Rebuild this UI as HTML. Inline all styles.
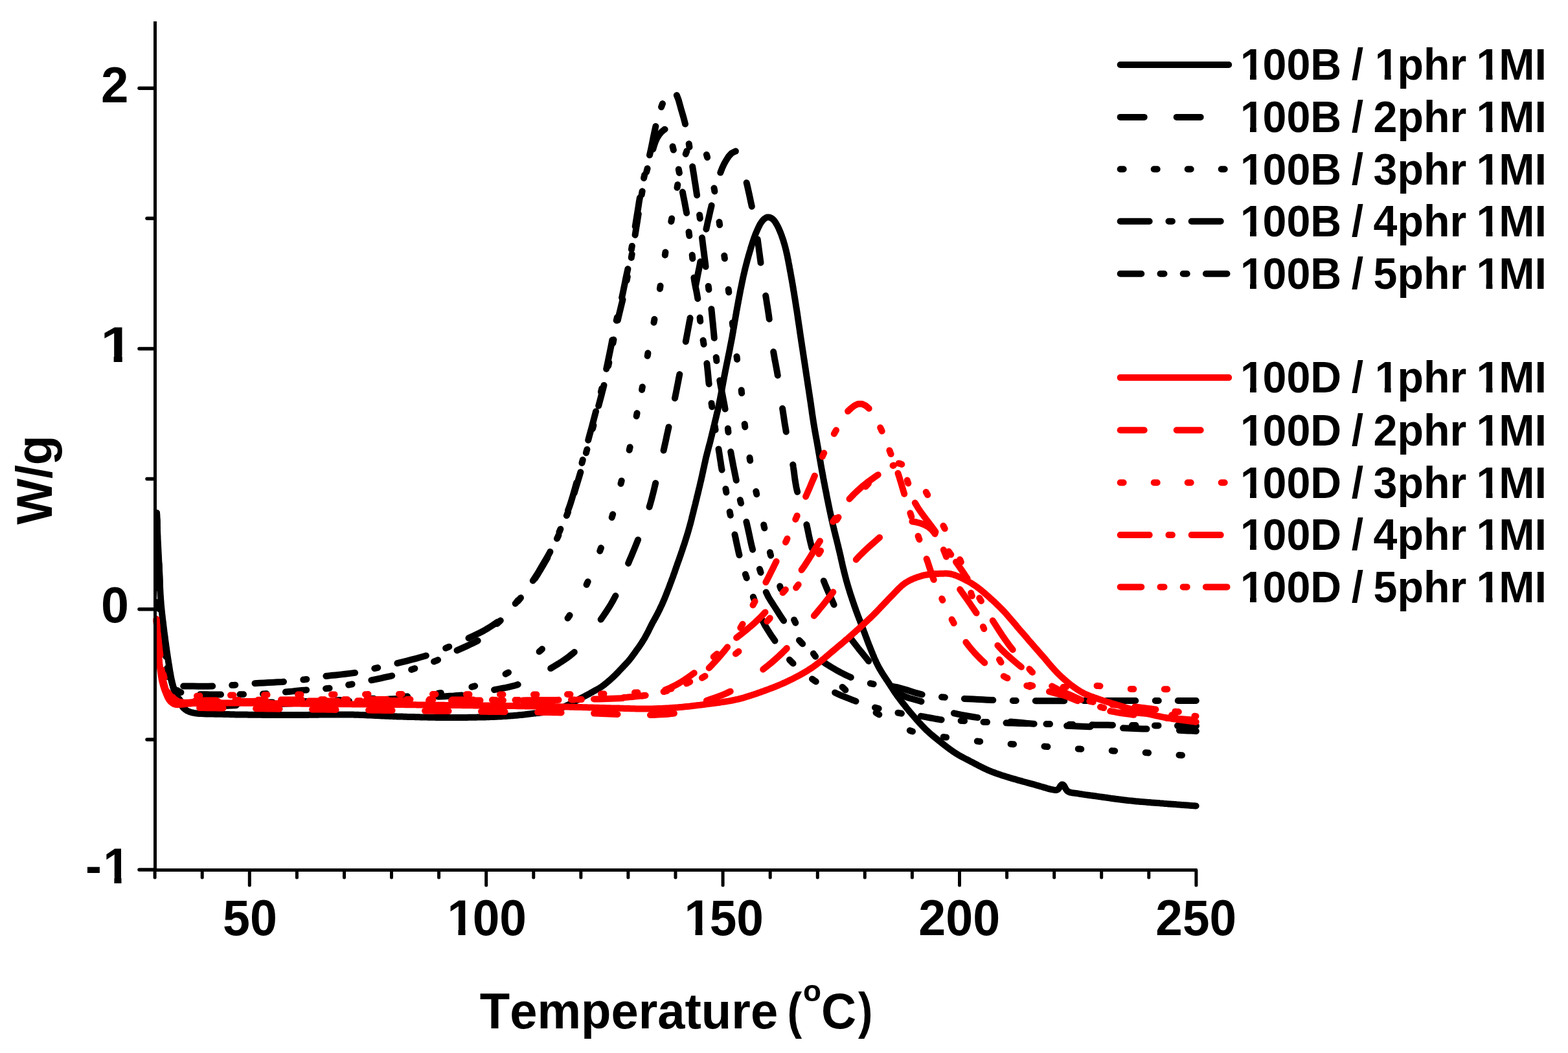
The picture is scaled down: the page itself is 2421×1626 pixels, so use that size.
<!DOCTYPE html>
<html><head><meta charset="utf-8"><style>html,body{margin:0;padding:0;background:#fff;width:2421px;height:1626px;overflow:hidden}svg{display:block}</style></head>
<body><svg xmlns="http://www.w3.org/2000/svg" width="2421" height="1626" viewBox="0 0 2421 1626"><path d="M242.0 792.0L242.1 793.3L242.2 795.1L242.2 797.0L242.3 799.0L242.4 801.0L242.4 803.0L242.5 805.0L242.6 807.0L242.7 809.0L242.7 811.0L242.8 813.0L242.9 815.0L243.0 817.0L243.0 819.0L243.1 821.0L243.2 823.0L243.3 825.0L243.4 827.0L243.5 829.0L243.5 831.0L243.6 833.0L243.7 835.0L243.8 837.0L243.9 839.0L244.0 841.0L244.1 843.0L244.2 845.0L244.3 847.0L244.4 848.9L244.5 850.9L244.6 852.9L244.7 854.9L244.8 856.9L244.9 858.9L245.0 860.9L245.1 862.9L245.2 864.9L245.3 866.9L245.4 868.9L245.5 870.9L245.6 872.9L245.7 874.9L245.8 876.9L245.9 878.9L246.0 880.9L246.1 882.9L246.2 884.9L246.2 886.9L246.3 888.9L246.4 890.9L246.5 892.9L246.6 894.9L246.7 896.9L246.7 898.9L246.8 900.9L246.9 902.9L247.0 904.9L247.1 906.9L247.2 908.9L247.3 910.9L247.4 912.9L247.5 914.9L247.6 916.9L247.7 918.9L247.9 920.9L248.0 922.9L248.1 924.9L248.3 926.9L248.4 928.8L248.6 930.8L248.7 932.8L248.9 934.8L249.1 936.8L249.3 938.8L249.5 940.8L249.7 942.8L249.9 944.8L250.1 946.8L250.3 948.8L250.5 950.7L250.8 952.7L251.0 954.7L251.2 956.7L251.5 958.7L251.7 960.7L252.0 962.7L252.2 964.6L252.4 966.6L252.7 968.6L252.9 970.6L253.2 972.6L253.4 974.6L253.7 976.5L253.9 978.5L254.2 980.5L254.5 982.5L254.7 984.5L255.0 986.5L255.2 988.4L255.5 990.4L255.8 992.4L256.1 994.4L256.3 996.4L256.6 998.4L256.9 1000.3L257.2 1002.3L257.4 1004.3L257.7 1006.3L258.0 1008.3L258.3 1010.2L258.6 1012.2L258.9 1014.2L259.2 1016.2L259.5 1018.1L259.8 1020.1L260.1 1022.1L260.4 1024.1L260.7 1026.0L261.1 1028.0L261.4 1030.0L261.7 1032.0L262.0 1033.9L262.3 1035.9L262.7 1037.9L263.0 1039.9L263.4 1041.8L263.7 1043.8L264.1 1045.8L264.5 1047.7L264.9 1049.7L265.4 1051.6L265.8 1053.6L266.3 1055.5L266.8 1057.4L267.3 1059.4L267.9 1061.3L268.5 1063.2L269.1 1065.1L269.7 1067.0L270.3 1068.9L271.0 1070.8L271.8 1072.7L272.5 1074.5L273.3 1076.3L274.1 1078.2L275.0 1080.0L275.9 1081.7L276.8 1083.5L277.8 1085.3L278.8 1087.0L279.9 1088.7L281.0 1090.3L282.2 1091.9L283.5 1093.4L285.0 1094.7L286.6 1096.0L288.2 1097.1L290.0 1098.0L291.8 1098.8L293.7 1099.5L295.6 1100.1L297.5 1100.5L299.5 1100.9L301.4 1101.2L303.4 1101.5L305.4 1101.7L307.4 1101.9L309.4 1102.0L311.4 1102.1L313.4 1102.2L315.4 1102.3L317.4 1102.4L319.4 1102.4L321.4 1102.5L323.4 1102.5L325.4 1102.6L327.4 1102.6L329.4 1102.6L331.4 1102.7L333.4 1102.7L335.4 1102.7L337.4 1102.7L339.4 1102.8L341.4 1102.8L343.4 1102.8L345.4 1102.9L347.4 1102.9L349.4 1103.0L351.4 1103.0L353.4 1103.1L355.4 1103.2L357.4 1103.2L359.4 1103.3L361.4 1103.3L363.4 1103.4L365.4 1103.4L367.4 1103.4L369.4 1103.5L371.4 1103.5L373.4 1103.5L375.4 1103.6L377.4 1103.6L379.4 1103.6L381.4 1103.6L383.4 1103.7L385.4 1103.7L387.4 1103.7L389.4 1103.7L391.4 1103.8L393.4 1103.8L395.4 1103.8L397.4 1103.8L399.4 1103.8L401.4 1103.8L403.4 1103.8L405.4 1103.9L407.4 1103.9L409.4 1103.9L411.4 1103.9L413.4 1103.9L415.4 1103.9L417.4 1103.9L419.4 1103.9L421.4 1103.9L423.4 1103.9L425.4 1103.9L427.4 1103.9L429.4 1104.0L431.4 1104.0L433.4 1104.0L435.4 1104.0L437.4 1104.0L439.4 1104.0L441.4 1104.0L443.4 1104.0L445.4 1104.0L447.4 1104.0L449.4 1104.0L451.4 1104.0L453.4 1104.0L455.4 1104.0L457.4 1104.0L459.4 1104.0L461.4 1104.0L463.4 1104.0L465.4 1104.0L467.4 1103.9L469.4 1103.9L471.4 1103.9L473.4 1103.9L475.4 1103.9L477.4 1103.8L479.4 1103.8L481.4 1103.8L483.4 1103.8L485.4 1103.7L487.4 1103.7L489.4 1103.7L491.4 1103.7L493.4 1103.6L495.4 1103.6L497.4 1103.6L499.4 1103.6L501.4 1103.5L503.4 1103.5L505.4 1103.5L507.4 1103.5L509.4 1103.4L511.4 1103.4L513.4 1103.4L515.4 1103.4L517.4 1103.4L519.4 1103.4L521.4 1103.4L523.4 1103.4L525.4 1103.4L527.4 1103.4L529.4 1103.4L531.4 1103.4L533.4 1103.4L535.4 1103.4L537.4 1103.5L539.4 1103.5L541.4 1103.5L543.4 1103.6L545.4 1103.6L547.4 1103.7L549.4 1103.7L551.4 1103.8L553.4 1103.8L555.4 1103.9L557.4 1104.0L559.4 1104.0L561.4 1104.1L563.4 1104.2L565.4 1104.3L567.4 1104.4L569.4 1104.5L571.4 1104.5L573.4 1104.6L575.4 1104.7L577.3 1104.8L579.3 1104.9L581.3 1105.0L583.3 1105.1L585.3 1105.2L587.3 1105.3L589.3 1105.4L591.3 1105.5L593.3 1105.6L595.3 1105.7L597.3 1105.8L599.3 1105.8L601.3 1105.9L603.3 1106.0L605.3 1106.1L607.3 1106.2L609.3 1106.2L611.3 1106.3L613.3 1106.4L615.3 1106.4L617.3 1106.5L619.3 1106.6L621.3 1106.6L623.3 1106.7L625.3 1106.7L627.3 1106.8L629.3 1106.9L631.3 1106.9L633.3 1107.0L635.3 1107.0L637.3 1107.1L639.3 1107.1L641.3 1107.2L643.3 1107.2L645.3 1107.3L647.3 1107.3L649.3 1107.4L651.3 1107.4L653.3 1107.5L655.3 1107.5L657.3 1107.6L659.3 1107.6L661.3 1107.7L663.3 1107.7L665.3 1107.7L667.3 1107.8L669.3 1107.8L671.3 1107.8L673.3 1107.9L675.3 1107.9L677.3 1107.9L679.3 1107.9L681.3 1107.9L683.3 1108.0L685.3 1108.0L687.3 1108.0L689.3 1108.0L691.3 1108.0L693.3 1108.0L695.3 1108.0L697.3 1108.0L699.3 1108.0L701.3 1108.0L703.3 1108.0L705.3 1108.0L707.3 1108.0L709.3 1108.0L711.3 1108.0L713.3 1107.9L715.3 1107.9L717.3 1107.9L719.3 1107.9L721.3 1107.9L723.3 1107.8L725.3 1107.8L727.3 1107.8L729.3 1107.8L731.3 1107.7L733.3 1107.7L735.3 1107.7L737.3 1107.6L739.3 1107.6L741.3 1107.6L743.3 1107.5L745.3 1107.5L747.3 1107.4L749.3 1107.4L751.3 1107.3L753.3 1107.2L755.3 1107.2L757.3 1107.1L759.3 1107.0L761.3 1106.9L763.3 1106.9L765.3 1106.8L767.3 1106.7L769.3 1106.6L771.3 1106.5L773.3 1106.4L775.3 1106.3L777.3 1106.1L779.3 1106.0L781.3 1105.9L783.2 1105.8L785.2 1105.6L787.2 1105.5L789.2 1105.3L791.2 1105.2L793.2 1105.0L795.2 1104.8L797.2 1104.7L799.2 1104.5L801.2 1104.3L803.2 1104.1L805.2 1103.9L807.2 1103.7L809.1 1103.5L811.1 1103.3L813.1 1103.0L815.1 1102.8L817.1 1102.6L819.1 1102.3L821.1 1102.1L823.0 1101.8L825.0 1101.6L827.0 1101.4L829.0 1101.1L831.0 1100.9L833.0 1100.7L835.0 1100.4L837.0 1100.2L838.9 1099.9L840.9 1099.7L842.9 1099.4L844.9 1099.0L846.8 1098.7L848.8 1098.3L850.8 1097.9L852.7 1097.5L854.7 1097.0L856.6 1096.5L858.5 1095.9L860.4 1095.3L862.3 1094.7L864.2 1094.0L866.1 1093.3L867.9 1092.5L869.8 1091.8L871.6 1091.0L873.4 1090.2L875.2 1089.3L877.0 1088.5L878.8 1087.6L880.6 1086.7L882.4 1085.8L884.2 1084.9L886.0 1084.0L887.8 1083.1L889.5 1082.1L891.3 1081.2L893.1 1080.3L894.8 1079.3L896.6 1078.4L898.3 1077.4L900.1 1076.5L901.9 1075.5L903.6 1074.6L905.4 1073.6L907.2 1072.7L908.9 1071.8L910.7 1070.8L912.4 1069.8L914.2 1068.8L915.9 1067.9L917.7 1066.9L919.4 1065.9L921.2 1065.0L922.9 1064.0L924.7 1063.0L926.4 1062.0L928.1 1060.9L929.7 1059.8L931.3 1058.6L932.9 1057.4L934.4 1056.1L936.0 1054.8L937.5 1053.6L939.0 1052.3L940.6 1051.0L942.1 1049.7L943.6 1048.3L945.1 1047.0L946.5 1045.6L948.0 1044.3L949.4 1042.9L950.8 1041.5L952.2 1040.0L953.6 1038.6L955.0 1037.2L956.4 1035.7L957.8 1034.2L959.1 1032.8L960.5 1031.3L961.9 1029.9L963.2 1028.4L964.6 1027.0L966.0 1025.5L967.4 1024.1L968.7 1022.6L970.1 1021.1L971.4 1019.6L972.6 1018.0L973.8 1016.5L975.0 1014.9L976.2 1013.3L977.4 1011.6L978.6 1010.0L979.8 1008.4L980.9 1006.8L982.1 1005.1L983.3 1003.5L984.4 1001.9L985.6 1000.3L986.8 998.6L987.9 997.0L989.0 995.4L990.1 993.7L991.2 992.0L992.3 990.3L993.3 988.6L994.4 986.9L995.4 985.2L996.4 983.4L997.3 981.7L998.3 979.9L999.2 978.2L1000.2 976.4L1001.1 974.6L1002.0 972.8L1002.8 971.0L1003.7 969.2L1004.6 967.4L1005.5 965.6L1006.4 963.9L1007.3 962.1L1008.3 960.3L1009.3 958.6L1010.2 956.9L1011.2 955.1L1012.2 953.4L1013.1 951.6L1014.1 949.8L1015.0 948.1L1015.9 946.3L1016.8 944.5L1017.7 942.7L1018.6 940.9L1019.4 939.1L1020.3 937.3L1021.1 935.5L1022.0 933.7L1022.8 931.8L1023.6 930.0L1024.4 928.2L1025.2 926.3L1026.0 924.5L1026.7 922.6L1027.5 920.8L1028.2 918.9L1028.9 917.1L1029.7 915.2L1030.4 913.3L1031.1 911.5L1031.9 909.6L1032.6 907.8L1033.3 905.9L1034.0 904.0L1034.7 902.1L1035.4 900.3L1036.1 898.4L1036.8 896.5L1037.5 894.6L1038.2 892.8L1038.9 890.9L1039.6 889.0L1040.2 887.1L1040.9 885.2L1041.6 883.4L1042.2 881.5L1042.9 879.6L1043.5 877.7L1044.2 875.8L1044.8 873.9L1045.5 872.0L1046.2 870.1L1046.8 868.2L1047.5 866.4L1048.2 864.5L1048.9 862.6L1049.5 860.7L1050.2 858.8L1050.8 856.9L1051.5 855.0L1052.1 853.1L1052.8 851.3L1053.4 849.4L1054.0 847.5L1054.7 845.6L1055.3 843.7L1055.9 841.8L1056.6 839.9L1057.2 838.0L1057.8 836.1L1058.4 834.2L1059.0 832.3L1059.6 830.3L1060.2 828.4L1060.8 826.5L1061.4 824.6L1062.0 822.7L1062.5 820.8L1063.1 818.9L1063.6 816.9L1064.2 815.0L1064.7 813.1L1065.2 811.2L1065.8 809.2L1066.3 807.3L1066.8 805.4L1067.3 803.4L1067.8 801.5L1068.2 799.5L1068.7 797.6L1069.2 795.7L1069.7 793.7L1070.2 791.8L1070.7 789.8L1071.1 787.9L1071.6 786.0L1072.1 784.0L1072.6 782.1L1073.1 780.1L1073.6 778.2L1074.0 776.2L1074.5 774.3L1075.0 772.4L1075.5 770.4L1075.9 768.5L1076.4 766.5L1076.9 764.6L1077.4 762.7L1077.8 760.7L1078.3 758.8L1078.8 756.8L1079.2 754.9L1079.7 752.9L1080.2 751.0L1080.6 749.0L1081.1 747.1L1081.5 745.1L1082.0 743.2L1082.5 741.2L1082.9 739.3L1083.3 737.3L1083.8 735.4L1084.2 733.4L1084.6 731.5L1085.1 729.5L1085.5 727.6L1085.9 725.6L1086.3 723.7L1086.8 721.7L1087.2 719.8L1087.6 717.8L1088.0 715.9L1088.5 713.9L1088.9 711.9L1089.3 710.0L1089.8 708.0L1090.2 706.1L1090.7 704.2L1091.2 702.2L1091.7 700.3L1092.2 698.3L1092.7 696.4L1093.2 694.5L1093.7 692.5L1094.2 690.6L1094.7 688.7L1095.3 686.7L1095.8 684.8L1096.3 682.9L1096.8 680.9L1097.2 679.0L1097.7 677.1L1098.2 675.1L1098.7 673.2L1099.2 671.2L1099.6 669.3L1100.1 667.3L1100.6 665.4L1101.0 663.4L1101.5 661.5L1101.9 659.6L1102.4 657.6L1102.9 655.7L1103.3 653.7L1103.8 651.8L1104.3 649.8L1104.7 647.9L1105.2 645.9L1105.7 644.0L1106.1 642.0L1106.6 640.1L1107.0 638.2L1107.5 636.2L1108.0 634.3L1108.4 632.3L1108.8 630.4L1109.3 628.4L1109.7 626.4L1110.1 624.5L1110.5 622.5L1110.9 620.6L1111.3 618.6L1111.7 616.6L1112.1 614.7L1112.4 612.7L1112.8 610.8L1113.2 608.8L1113.6 606.8L1113.9 604.9L1114.3 602.9L1114.7 600.9L1115.0 599.0L1115.4 597.0L1115.7 595.0L1116.1 593.1L1116.5 591.1L1116.8 589.1L1117.2 587.2L1117.6 585.2L1117.9 583.2L1118.3 581.3L1118.7 579.3L1119.1 577.3L1119.4 575.4L1119.8 573.4L1120.2 571.4L1120.6 569.5L1121.0 567.5L1121.4 565.6L1121.8 563.6L1122.2 561.6L1122.6 559.7L1123.0 557.7L1123.4 555.8L1123.8 553.8L1124.2 551.8L1124.6 549.9L1125.0 547.9L1125.4 546.0L1125.8 544.0L1126.2 542.0L1126.6 540.1L1127.0 538.1L1127.3 536.2L1127.7 534.2L1128.1 532.2L1128.5 530.3L1128.9 528.3L1129.3 526.3L1129.6 524.4L1130.0 522.4L1130.4 520.4L1130.7 518.5L1131.1 516.5L1131.4 514.5L1131.8 512.6L1132.1 510.6L1132.4 508.6L1132.8 506.7L1133.1 504.7L1133.4 502.7L1133.8 500.7L1134.1 498.8L1134.4 496.8L1134.8 494.8L1135.1 492.9L1135.4 490.9L1135.8 488.9L1136.1 486.9L1136.5 485.0L1136.8 483.0L1137.1 481.0L1137.5 479.1L1137.9 477.1L1138.2 475.1L1138.6 473.2L1138.9 471.2L1139.3 469.2L1139.7 467.3L1140.0 465.3L1140.4 463.3L1140.8 461.4L1141.1 459.4L1141.5 457.4L1141.9 455.5L1142.3 453.5L1142.6 451.5L1143.0 449.6L1143.4 447.6L1143.8 445.6L1144.2 443.7L1144.6 441.7L1145.0 439.8L1145.4 437.8L1145.8 435.8L1146.2 433.9L1146.6 431.9L1147.0 430.0L1147.4 428.0L1147.9 426.1L1148.3 424.1L1148.8 422.2L1149.2 420.2L1149.7 418.3L1150.2 416.3L1150.6 414.4L1151.1 412.4L1151.6 410.5L1152.1 408.6L1152.6 406.6L1153.1 404.7L1153.6 402.8L1154.1 400.8L1154.7 398.9L1155.2 397.0L1155.7 395.1L1156.3 393.1L1156.9 391.2L1157.4 389.3L1158.0 387.4L1158.6 385.5L1159.1 383.5L1159.7 381.6L1160.3 379.7L1160.9 377.8L1161.5 375.9L1162.1 374.0L1162.8 372.1L1163.4 370.2L1164.0 368.3L1164.7 366.4L1165.4 364.6L1166.1 362.7L1166.8 360.8L1167.6 359.0L1168.4 357.1L1169.2 355.3L1170.0 353.5L1170.8 351.7L1171.7 349.8L1172.6 348.1L1173.5 346.3L1174.6 344.6L1175.7 342.9L1176.9 341.3L1178.2 339.8L1179.6 338.4L1181.1 337.2L1182.8 336.2L1184.6 335.5L1186.4 335.4L1188.3 335.7L1190.1 336.4L1191.8 337.4L1193.4 338.6L1194.8 340.0L1196.0 341.6L1197.2 343.2L1198.2 344.9L1199.2 346.6L1200.2 348.4L1201.1 350.1L1202.0 351.9L1202.8 353.8L1203.6 355.6L1204.4 357.4L1205.1 359.3L1205.9 361.2L1206.6 363.0L1207.2 364.9L1207.9 366.8L1208.5 368.7L1209.2 370.6L1209.8 372.5L1210.3 374.4L1210.9 376.3L1211.5 378.3L1212.0 380.2L1212.5 382.1L1213.0 384.1L1213.5 386.0L1214.0 387.9L1214.4 389.9L1214.8 391.8L1215.3 393.8L1215.7 395.7L1216.1 397.7L1216.5 399.7L1216.9 401.6L1217.3 403.6L1217.6 405.6L1218.0 407.5L1218.4 409.5L1218.8 411.5L1219.1 413.4L1219.5 415.4L1219.8 417.4L1220.2 419.3L1220.6 421.3L1220.9 423.3L1221.3 425.2L1221.6 427.2L1222.0 429.2L1222.3 431.1L1222.7 433.1L1223.0 435.1L1223.4 437.0L1223.7 439.0L1224.0 441.0L1224.4 443.0L1224.7 444.9L1225.0 446.9L1225.3 448.9L1225.7 450.8L1226.0 452.8L1226.3 454.8L1226.6 456.8L1226.9 458.7L1227.3 460.7L1227.6 462.7L1227.9 464.7L1228.2 466.6L1228.5 468.6L1228.8 470.6L1229.1 472.6L1229.4 474.5L1229.7 476.5L1230.1 478.5L1230.4 480.5L1230.7 482.5L1231.0 484.4L1231.3 486.4L1231.6 488.4L1231.8 490.4L1232.1 492.3L1232.4 494.3L1232.7 496.3L1233.0 498.3L1233.3 500.3L1233.6 502.2L1233.9 504.2L1234.2 506.2L1234.5 508.2L1234.8 510.2L1235.0 512.1L1235.3 514.1L1235.6 516.1L1235.9 518.1L1236.2 520.0L1236.5 522.0L1236.8 524.0L1237.1 526.0L1237.4 528.0L1237.7 529.9L1238.0 531.9L1238.3 533.9L1238.6 535.9L1238.9 537.8L1239.2 539.8L1239.5 541.8L1239.8 543.8L1240.1 545.8L1240.4 547.7L1240.7 549.7L1241.0 551.7L1241.3 553.7L1241.6 555.6L1241.9 557.6L1242.2 559.6L1242.5 561.6L1242.8 563.6L1243.1 565.5L1243.4 567.5L1243.7 569.5L1244.0 571.5L1244.3 573.4L1244.6 575.4L1244.9 577.4L1245.2 579.4L1245.5 581.4L1245.8 583.3L1246.1 585.3L1246.4 587.3L1246.7 589.3L1247.0 591.2L1247.3 593.2L1247.6 595.2L1247.9 597.2L1248.2 599.1L1248.5 601.1L1248.8 603.1L1249.1 605.1L1249.4 607.0L1249.7 609.0L1250.0 611.0L1250.3 613.0L1250.6 615.0L1250.9 616.9L1251.2 618.9L1251.5 620.9L1251.8 622.9L1252.1 624.9L1252.3 626.8L1252.6 628.8L1252.9 630.8L1253.2 632.8L1253.5 634.8L1253.7 636.7L1254.0 638.7L1254.3 640.7L1254.6 642.7L1254.9 644.7L1255.2 646.6L1255.5 648.6L1255.8 650.6L1256.1 652.6L1256.4 654.5L1256.8 656.5L1257.1 658.5L1257.4 660.5L1257.8 662.4L1258.1 664.4L1258.4 666.4L1258.8 668.3L1259.1 670.3L1259.5 672.3L1259.8 674.2L1260.2 676.2L1260.6 678.2L1260.9 680.1L1261.3 682.1L1261.6 684.1L1262.0 686.1L1262.3 688.0L1262.7 690.0L1263.0 692.0L1263.4 693.9L1263.7 695.9L1264.0 697.9L1264.4 699.8L1264.7 701.8L1265.1 703.8L1265.4 705.8L1265.7 707.7L1266.1 709.7L1266.4 711.7L1266.8 713.6L1267.1 715.6L1267.4 717.6L1267.8 719.5L1268.1 721.5L1268.5 723.5L1268.8 725.5L1269.2 727.4L1269.6 729.4L1269.9 731.4L1270.3 733.3L1270.7 735.3L1271.0 737.3L1271.4 739.2L1271.8 741.2L1272.1 743.2L1272.5 745.1L1272.9 747.1L1273.3 749.0L1273.6 751.0L1274.0 753.0L1274.4 754.9L1274.8 756.9L1275.2 758.9L1275.6 760.8L1276.0 762.8L1276.3 764.7L1276.7 766.7L1277.1 768.7L1277.5 770.6L1277.9 772.6L1278.3 774.5L1278.7 776.5L1279.1 778.5L1279.5 780.4L1279.9 782.4L1280.3 784.3L1280.7 786.3L1281.1 788.3L1281.6 790.2L1282.0 792.2L1282.4 794.1L1282.8 796.1L1283.2 798.0L1283.7 800.0L1284.1 801.9L1284.5 803.9L1285.0 805.8L1285.4 807.8L1285.9 809.7L1286.3 811.7L1286.8 813.6L1287.3 815.6L1287.7 817.5L1288.2 819.5L1288.7 821.4L1289.2 823.4L1289.6 825.3L1290.1 827.2L1290.6 829.2L1291.1 831.1L1291.6 833.1L1292.1 835.0L1292.5 836.9L1293.0 838.9L1293.5 840.8L1294.0 842.8L1294.4 844.7L1294.9 846.7L1295.4 848.6L1295.8 850.5L1296.3 852.5L1296.8 854.4L1297.2 856.4L1297.7 858.3L1298.1 860.3L1298.5 862.2L1299.0 864.2L1299.4 866.1L1299.9 868.1L1300.3 870.0L1300.7 872.0L1301.2 873.9L1301.6 875.9L1302.1 877.8L1302.6 879.8L1303.0 881.7L1303.5 883.7L1304.0 885.6L1304.5 887.6L1305.0 889.5L1305.5 891.4L1306.0 893.4L1306.5 895.3L1307.0 897.2L1307.6 899.1L1308.1 901.1L1308.7 903.0L1309.3 904.9L1309.8 906.8L1310.4 908.7L1311.0 910.6L1311.6 912.5L1312.2 914.5L1312.8 916.4L1313.4 918.3L1314.0 920.2L1314.7 922.1L1315.3 924.0L1315.9 925.9L1316.6 927.8L1317.2 929.7L1317.9 931.5L1318.5 933.4L1319.1 935.3L1319.8 937.2L1320.5 939.1L1321.1 941.0L1321.8 942.9L1322.5 944.8L1323.2 946.6L1323.9 948.5L1324.6 950.4L1325.3 952.2L1326.0 954.1L1326.7 956.0L1327.5 957.8L1328.2 959.7L1328.9 961.6L1329.6 963.4L1330.3 965.3L1331.0 967.2L1331.7 969.1L1332.4 970.9L1333.1 972.8L1333.8 974.7L1334.5 976.6L1335.2 978.4L1335.9 980.3L1336.6 982.2L1337.3 984.1L1338.0 985.9L1338.7 987.8L1339.4 989.7L1340.1 991.6L1340.8 993.4L1341.5 995.3L1342.3 997.1L1343.0 999.0L1343.8 1000.9L1344.5 1002.7L1345.3 1004.6L1346.0 1006.4L1346.8 1008.3L1347.5 1010.1L1348.3 1012.0L1349.1 1013.8L1349.8 1015.7L1350.6 1017.5L1351.4 1019.3L1352.3 1021.1L1353.1 1023.0L1354.0 1024.8L1354.9 1026.6L1355.8 1028.3L1356.7 1030.1L1357.7 1031.9L1358.7 1033.6L1359.7 1035.3L1360.7 1037.0L1361.8 1038.7L1362.8 1040.4L1363.9 1042.1L1365.0 1043.8L1366.1 1045.4L1367.2 1047.1L1368.3 1048.8L1369.4 1050.4L1370.5 1052.1L1371.7 1053.8L1372.7 1055.4L1373.8 1057.1L1374.9 1058.8L1376.0 1060.5L1377.1 1062.1L1378.2 1063.8L1379.3 1065.5L1380.4 1067.2L1381.5 1068.8L1382.6 1070.5L1383.8 1072.1L1384.9 1073.8L1386.1 1075.4L1387.3 1077.0L1388.5 1078.6L1389.7 1080.2L1390.9 1081.8L1392.1 1083.4L1393.3 1084.9L1394.6 1086.5L1395.8 1088.1L1397.1 1089.6L1398.3 1091.2L1399.6 1092.8L1400.8 1094.3L1402.1 1095.9L1403.3 1097.4L1404.6 1099.0L1405.9 1100.5L1407.2 1102.0L1408.5 1103.6L1409.8 1105.1L1411.1 1106.6L1412.4 1108.1L1413.7 1109.6L1415.0 1111.1L1416.4 1112.6L1417.7 1114.1L1419.1 1115.6L1420.4 1117.0L1421.8 1118.5L1423.1 1120.0L1424.5 1121.4L1425.9 1122.9L1427.3 1124.3L1428.7 1125.7L1430.1 1127.1L1431.6 1128.5L1433.1 1129.8L1434.5 1131.2L1436.0 1132.5L1437.5 1133.8L1439.1 1135.1L1440.6 1136.4L1442.1 1137.7L1443.7 1139.0L1445.2 1140.2L1446.8 1141.5L1448.3 1142.7L1449.9 1144.0L1451.5 1145.2L1453.0 1146.5L1454.6 1147.7L1456.2 1149.0L1457.7 1150.2L1459.3 1151.4L1460.9 1152.6L1462.5 1153.9L1464.1 1155.1L1465.7 1156.3L1467.3 1157.4L1468.9 1158.6L1470.6 1159.7L1472.2 1160.9L1473.9 1162.0L1475.6 1163.1L1477.3 1164.1L1479.0 1165.2L1480.7 1166.2L1482.4 1167.2L1484.2 1168.1L1485.9 1169.1L1487.7 1170.0L1489.5 1171.0L1491.2 1171.9L1493.0 1172.8L1494.8 1173.7L1496.6 1174.7L1498.3 1175.6L1500.1 1176.5L1501.9 1177.4L1503.7 1178.4L1505.4 1179.3L1507.2 1180.2L1509.0 1181.2L1510.7 1182.1L1512.5 1183.0L1514.3 1183.9L1516.1 1184.8L1517.9 1185.7L1519.7 1186.6L1521.5 1187.4L1523.3 1188.3L1525.1 1189.1L1527.0 1189.9L1528.8 1190.6L1530.7 1191.4L1532.5 1192.1L1534.4 1192.8L1536.3 1193.5L1538.2 1194.2L1540.0 1194.8L1541.9 1195.5L1543.8 1196.1L1545.7 1196.8L1547.6 1197.4L1549.5 1198.0L1551.4 1198.6L1553.3 1199.2L1555.2 1199.8L1557.2 1200.4L1559.1 1201.0L1561.0 1201.6L1562.9 1202.1L1564.8 1202.7L1566.8 1203.2L1568.7 1203.7L1570.6 1204.3L1572.5 1204.8L1574.5 1205.3L1576.4 1205.9L1578.3 1206.4L1580.2 1207.0L1582.2 1207.5L1584.1 1208.0L1586.0 1208.6L1588.0 1209.1L1589.9 1209.6L1591.8 1210.2L1593.7 1210.7L1595.7 1211.2L1597.6 1211.7L1599.5 1212.3L1601.5 1212.8L1603.4 1213.4L1605.3 1213.9L1607.2 1214.5L1609.1 1215.0L1611.1 1215.6L1613.0 1216.2L1614.9 1216.7L1616.8 1217.3L1618.8 1217.8L1620.7 1218.3L1622.6 1218.8L1624.6 1219.2L1626.5 1219.6L1628.5 1219.9L1630.4 1220.0L1632.2 1219.6L1633.8 1218.7L1635.0 1217.3L1636.1 1215.6L1637.1 1214.0L1638.2 1212.5L1639.4 1211.5L1640.7 1211.4L1642.0 1212.3L1643.1 1213.7L1644.1 1215.4L1645.0 1217.2L1646.0 1218.9L1647.1 1220.5L1648.5 1221.8L1650.1 1222.8L1652.0 1223.5L1653.9 1223.9L1655.9 1224.3L1657.8 1224.6L1659.8 1224.8L1661.8 1225.1L1663.8 1225.3L1665.8 1225.6L1667.7 1226.0L1669.7 1226.3L1671.7 1226.6L1673.7 1226.9L1675.7 1227.2L1677.6 1227.4L1679.6 1227.7L1681.6 1228.0L1683.6 1228.3L1685.6 1228.5L1687.5 1228.8L1689.5 1229.1L1691.5 1229.3L1693.5 1229.6L1695.5 1229.9L1697.5 1230.2L1699.4 1230.4L1701.4 1230.7L1703.4 1231.0L1705.4 1231.3L1707.4 1231.5L1709.3 1231.8L1711.3 1232.1L1713.3 1232.4L1715.3 1232.7L1717.3 1232.9L1719.2 1233.2L1721.2 1233.5L1723.2 1233.8L1725.2 1234.0L1727.2 1234.3L1729.1 1234.5L1731.1 1234.8L1733.1 1235.0L1735.1 1235.3L1737.1 1235.5L1739.1 1235.7L1741.1 1236.0L1743.1 1236.2L1745.0 1236.4L1747.0 1236.6L1749.0 1236.8L1751.0 1237.0L1753.0 1237.2L1755.0 1237.4L1757.0 1237.5L1759.0 1237.7L1761.0 1237.9L1763.0 1238.1L1765.0 1238.2L1766.9 1238.4L1768.9 1238.6L1770.9 1238.7L1772.9 1238.9L1774.9 1239.0L1776.9 1239.2L1778.9 1239.4L1780.9 1239.5L1782.9 1239.7L1784.9 1239.8L1786.9 1240.0L1788.9 1240.1L1790.9 1240.3L1792.9 1240.4L1794.9 1240.6L1796.9 1240.8L1798.8 1240.9L1800.8 1241.1L1802.8 1241.2L1804.8 1241.4L1806.8 1241.5L1808.8 1241.7L1810.8 1241.8L1812.8 1242.0L1814.8 1242.1L1816.8 1242.3L1818.8 1242.4L1820.8 1242.6L1822.8 1242.7L1824.8 1242.9L1826.8 1243.0L1828.8 1243.2L1830.8 1243.3L1832.8 1243.5L1834.7 1243.6L1836.7 1243.8L1838.7 1243.9L1840.7 1244.1L1842.7 1244.2L1844.6 1244.3L1846.1 1244.5L1846.7 1244.5" fill="none" stroke="#000" stroke-width="10" stroke-linecap="round" stroke-linejoin="round"/>
<path d="M242.0 792.0L242.2 795.5L242.3 800.0L242.5 804.5L242.7 809.0L242.8 813.5L243.0 818.0L243.1 820.0 M245.5 870.4L245.8 876.4L246.0 882.4L246.3 888.4L246.5 894.4L246.7 900.4L247.0 906.4L247.0 906.9 M250.7 957.2L251.3 963.2L251.9 969.2L252.6 975.2L253.2 981.1L254.0 987.1L254.7 993.0L254.8 994.0 M262.9 1044.4L264.4 1050.7L266.1 1057.0L268.1 1063.1L270.4 1069.2L273.4 1075.0L277.2 1080.2L277.9 1080.9 M328.2 1090.4L334.2 1090.3L340.2 1090.1L346.2 1089.9L352.2 1089.7L358.1 1089.5L364.1 1089.3L364.6 1089.3 M415.1 1087.5L421.1 1087.3L427.1 1087.1L433.1 1086.9L439.1 1086.7L445.1 1086.4L451.1 1086.2L451.6 1086.2 M502.5 1084.1L508.5 1083.8L514.5 1083.6L520.5 1083.3L526.5 1083.0L532.5 1082.8L538.5 1082.5L539.0 1082.5 M589.5 1080.1L595.4 1079.9L601.4 1079.6L607.4 1079.2L613.4 1078.9L619.4 1078.6L625.4 1078.3L625.9 1078.3 M676.3 1075.7L682.3 1075.5L688.3 1075.2L694.3 1074.8L700.3 1074.5L706.3 1074.0L712.3 1073.5L712.8 1073.4 M763.1 1065.2L769.0 1064.1L774.9 1063.0L780.8 1061.9L786.6 1060.6L792.5 1059.2L798.2 1057.6L799.7 1057.1 M850.2 1032.1L856.2 1028.5L862.2 1024.9L868.1 1021.1L873.9 1017.2L879.5 1013.0L884.9 1008.6L886.8 1007.0 M927.7 956.6L931.7 950.9L935.6 945.1L939.4 939.2L943.1 933.3L946.6 927.2L949.9 921.0L950.4 920.1 M970.1 869.9L972.5 863.9L975.1 857.9L977.6 851.9L980.1 845.9L982.5 839.9L984.9 833.8L985.1 833.4 M1002.6 782.8L1004.3 777.1L1005.9 771.3L1007.4 765.5L1008.9 759.7L1010.3 753.8L1011.7 748.0L1012.2 746.1 M1024.6 695.6L1025.9 689.7L1027.2 683.8L1028.5 678.0L1029.7 672.1L1031.0 666.3L1032.3 660.4L1032.5 659.4 M1042.0 614.9L1043.2 609.0L1044.4 603.2L1045.5 597.3L1046.7 591.4L1047.8 585.5L1049.0 579.6L1049.3 578.1 M1058.8 527.5L1059.9 521.6L1061.0 515.7L1062.1 509.8L1063.2 503.9L1064.3 498.0L1065.4 492.1L1065.5 491.1 M1074.1 440.9L1075.3 435.0L1076.5 429.1L1077.6 423.2L1078.8 417.3L1080.0 411.5L1081.1 405.6L1081.4 404.1 M1090.4 353.9L1091.7 348.0L1092.9 342.2L1094.3 336.3L1095.6 330.5L1096.9 324.6L1098.3 318.8L1098.6 317.3 M1112.3 266.6L1114.8 260.1L1117.7 253.7L1121.1 247.6L1124.9 241.7L1129.5 236.6L1135.4 233.6L1135.9 233.6 M1152.7 282.2L1154.1 288.0L1155.4 293.9L1156.7 299.7L1158.0 305.6L1159.2 311.5L1160.5 317.3L1160.8 318.8 M1169.7 369.5L1170.5 375.5L1171.3 381.4L1172.1 387.4L1172.9 393.3L1173.7 399.3L1174.5 405.2L1174.5 405.7 M1182.2 456.6L1183.2 462.5L1184.1 468.5L1185.1 474.4L1186.0 480.3L1186.9 486.3L1187.7 492.2L1187.8 492.7 M1194.2 543.3L1195.2 549.2L1196.2 555.1L1197.4 561.0L1198.5 566.9L1199.6 572.8L1200.6 578.7L1200.8 579.7 M1208.1 630.7L1209.0 636.6L1209.9 642.5L1210.8 648.5L1211.7 654.4L1212.7 660.3L1213.7 666.2L1213.8 666.7 M1224.3 717.6L1224.4 718.1L1224.4 718.6L1224.5 719.1L1224.6 719.6 M1225.1 723.1L1226.0 729.0L1226.7 735.0L1227.5 740.9L1228.5 746.8L1229.5 752.7L1230.9 758.6L1231.1 759.6 M1245.4 810.1L1246.7 815.9L1247.9 821.8L1249.1 827.7L1250.4 833.5L1251.8 839.4L1253.3 845.2L1253.8 846.6 M1271.8 897.0L1274.2 903.0L1276.7 909.0L1279.3 914.9L1281.9 920.9L1284.6 926.8L1287.2 932.8L1287.6 933.7 M1312.6 984.3L1316.9 990.4L1321.5 996.3L1326.1 1002.2L1330.9 1008.0L1335.6 1013.8L1340.3 1019.7L1341.2 1020.9 M1385.9 1069.1L1391.4 1072.6L1397.2 1075.5L1403.3 1077.7L1409.6 1079.5L1415.8 1081.2L1422.1 1083.0L1422.5 1083.2 M1472.9 1101.3L1478.7 1102.7L1484.6 1103.9L1490.5 1105.0L1496.4 1106.0L1502.3 1107.0L1508.2 1107.9L1509.7 1108.1 M1560.3 1114.4L1566.3 1115.0L1572.3 1115.6L1578.2 1116.1L1584.2 1116.7L1590.2 1117.2L1596.2 1117.7L1596.7 1117.7 M1647.1 1120.8L1653.1 1121.0L1659.1 1121.3L1665.0 1121.6L1671.0 1121.8L1677.0 1122.0L1683.0 1122.3L1683.5 1122.3 M1734.0 1124.3L1740.0 1124.5L1746.0 1124.7L1752.0 1125.0L1758.0 1125.2L1764.0 1125.4L1770.0 1125.6L1770.5 1125.6 M1820.9 1127.8L1825.4 1128.0L1829.9 1128.2L1834.4 1128.4L1838.9 1128.6L1843.4 1128.8L1846.9 1129.0" fill="none" stroke="#000" stroke-width="10" stroke-linecap="round" stroke-linejoin="round"/>
<path d="M242.2 801.0L242.3 801.5L242.3 802.0L242.3 802.5L242.3 803.0L242.3 803.5L242.3 804.0L242.3 804.5L242.3 805.0L242.4 805.5 M243.8 853.0L243.8 853.5L243.9 854.0L243.9 854.5L243.9 855.0L243.9 855.5L243.9 856.0L244.0 856.5L244.0 857.0L244.0 857.5 M245.8 904.9L245.8 905.4L245.8 905.9L245.8 906.4L245.8 906.9L245.9 907.4L245.9 907.9L245.9 908.4L245.9 908.9L246.0 909.4 M249.3 957.3L249.3 957.8L249.4 958.3L249.4 958.8L249.4 959.3L249.5 959.8L249.5 960.3L249.6 960.8L249.6 961.3L249.7 961.8 M255.6 1008.9L255.6 1009.4L255.7 1009.9L255.8 1010.4L255.9 1010.9L255.9 1011.4L256.0 1011.9L256.1 1012.4L256.2 1012.9L256.2 1013.4L256.3 1013.9 M267.2 1061.0L267.4 1061.5L267.6 1062.0L267.8 1062.4L268.0 1062.9L268.2 1063.3L268.4 1063.8L268.6 1064.2L268.8 1064.7L269.0 1065.2L269.2 1065.6 M312.4 1087.5L312.9 1087.5L313.4 1087.5L313.9 1087.5L314.4 1087.5L314.9 1087.5L315.4 1087.5L315.9 1087.5L316.4 1087.5L316.9 1087.5 M364.4 1086.2L364.9 1086.2L365.4 1086.2L365.9 1086.2L366.4 1086.2L366.9 1086.1L367.4 1086.1L367.9 1086.1L368.4 1086.1L368.9 1086.1 M416.3 1084.6L416.8 1084.5L417.3 1084.5L417.8 1084.5L418.3 1084.5L418.8 1084.5L419.3 1084.5L419.8 1084.5L420.3 1084.4L420.8 1084.4 M468.3 1083.0L468.8 1083.0L469.3 1083.0L469.8 1083.0L470.3 1082.9L470.8 1082.9L471.3 1082.9L471.8 1082.9L472.3 1082.9L472.8 1082.9 M520.8 1081.2L521.3 1081.2L521.8 1081.2L522.3 1081.1L522.8 1081.1L523.3 1081.1L523.8 1081.1L524.3 1081.1L524.8 1081.0L525.3 1081.0 M572.7 1078.9L573.2 1078.9L573.7 1078.9L574.2 1078.8L574.7 1078.8L575.2 1078.8L575.7 1078.8L576.2 1078.7L576.7 1078.7L577.2 1078.7 M624.6 1075.7L625.1 1075.6L625.6 1075.6L626.1 1075.5L626.6 1075.5L627.1 1075.5L627.6 1075.4L628.1 1075.4L628.6 1075.4L629.1 1075.3 M676.4 1070.7L676.9 1070.6L677.4 1070.5L677.9 1070.4L678.4 1070.4L678.9 1070.3L679.3 1070.2L679.8 1070.2L680.3 1070.1L680.8 1070.0 M728.4 1060.7L728.9 1060.6L729.4 1060.5L729.8 1060.3L730.3 1060.2L730.8 1060.0L731.3 1059.9L731.8 1059.8L732.2 1059.6L732.7 1059.5L733.2 1059.3 M780.6 1040.7L781.0 1040.5L781.5 1040.3L781.9 1040.0L782.4 1039.8L782.8 1039.6L783.3 1039.3L783.7 1039.1L784.1 1038.9L784.6 1038.6L785.0 1038.4 M832.6 1006.3L833.3 1005.6L834.1 1004.9L834.8 1004.3L835.5 1003.6L836.3 1002.9L837.0 1002.2 M876.6 954.6L876.8 954.2L877.1 953.8L877.4 953.4L877.7 953.0L878.0 952.6L878.2 952.2L878.5 951.7L878.8 951.3L879.1 950.9L879.4 950.5L879.6 950.1 M905.6 902.8L905.8 902.3L906.0 901.9L906.3 901.4L906.5 901.0L906.7 900.5L906.9 900.1L907.1 899.6L907.3 899.2L907.5 898.7L907.7 898.3 M926.2 850.8L926.4 850.3L926.6 849.8L926.8 849.3L926.9 848.9L927.1 848.4L927.3 847.9L927.5 847.5L927.6 847.0L927.8 846.5L928.0 846.1 M944.7 799.0L944.8 798.5L945.0 798.0L945.1 797.5L945.3 797.0L945.4 796.6L945.6 796.1L945.7 795.6L945.9 795.1L946.0 794.6L946.2 794.2 M958.5 746.8L958.7 746.3L958.8 745.8L958.9 745.3L959.0 744.8L959.2 744.3L959.3 743.9L959.4 743.4L959.5 742.9L959.7 742.4 M971.7 694.9L971.8 694.4L971.9 693.9L972.0 693.4L972.1 693.0L972.2 692.5L972.3 692.0L972.5 691.5L972.6 691.0L972.7 690.5 M982.7 642.6L982.8 642.1L982.9 641.6L983.0 641.1L983.1 640.6L983.2 640.1L983.3 639.6L983.4 639.1L983.5 638.6L983.6 638.1 M991.1 601.9L991.1 601.4L991.2 600.9L991.3 600.4L991.4 599.9L991.5 599.5L991.6 599.0L991.7 598.5L991.8 598.0L991.9 597.5 M999.7 549.6L999.8 549.1L999.9 548.6L1000.0 548.1L1000.1 547.7L1000.1 547.2L1000.2 546.7L1000.3 546.2L1000.4 545.7L1000.4 545.2 M1009.5 498.0L1009.6 497.6L1009.7 497.1L1009.8 496.6L1009.9 496.1L1010.0 495.6L1010.1 495.1L1010.2 494.6L1010.3 494.1L1010.4 493.6L1010.4 493.1 M1018.9 445.9L1019.0 445.4L1019.0 444.9L1019.1 444.4L1019.2 443.9L1019.3 443.4L1019.4 442.9L1019.5 442.4L1019.5 441.9L1019.6 441.4 M1026.8 394.0L1026.8 393.5L1026.9 393.0L1027.0 392.5L1027.1 392.0L1027.1 391.5L1027.2 391.0L1027.3 390.5L1027.4 390.0L1027.4 389.5 M1036.3 341.9L1036.4 341.4L1036.5 340.9L1036.6 340.4L1036.7 339.9L1036.8 339.4L1036.9 338.9L1037.0 338.4L1037.1 337.9L1037.2 337.4 M1045.5 289.7L1045.6 289.2L1045.7 288.7L1045.8 288.2L1045.8 287.7L1045.9 287.2L1046.0 286.7L1046.1 286.2L1046.2 285.7L1046.3 285.2 M1058.7 237.9L1058.9 237.4L1059.1 236.9L1059.2 236.5L1059.4 236.0L1059.6 235.5L1059.8 235.1L1059.9 234.6L1060.1 234.1L1060.3 233.7L1060.4 233.2 M1090.9 238.8L1091.1 239.3L1091.2 239.7L1091.3 240.2L1091.5 240.7L1091.6 241.2L1091.7 241.7L1091.9 242.1L1092.0 242.6L1092.1 243.1 M1102.5 290.5L1102.6 290.9L1102.7 291.4L1102.8 291.9L1102.9 292.4L1103.0 292.9L1103.1 293.4L1103.2 293.9L1103.2 294.4L1103.3 294.9L1103.4 295.4 M1110.5 342.8L1110.6 343.3L1110.7 343.8L1110.8 344.3L1110.8 344.8L1110.9 345.3L1111.0 345.8L1111.0 346.3L1111.1 346.8L1111.2 347.3 M1118.3 394.8L1118.4 395.3L1118.4 395.8L1118.5 396.3L1118.6 396.7L1118.6 397.2L1118.7 397.7L1118.8 398.2L1118.8 398.7L1118.9 399.2 M1124.7 446.9L1124.8 447.4L1124.9 447.9L1124.9 448.4L1125.0 448.9L1125.0 449.4L1125.1 449.8L1125.2 450.3L1125.2 450.8L1125.3 451.3 M1130.8 498.5L1130.9 499.0L1130.9 499.5L1131.0 500.0L1131.1 500.5L1131.1 501.0L1131.2 501.5L1131.2 502.0L1131.3 502.5L1131.4 503.0 M1137.5 550.6L1137.6 551.1L1137.7 551.6L1137.7 552.1L1137.8 552.6L1137.9 553.1L1137.9 553.6L1138.0 554.0L1138.1 554.5L1138.1 555.0 M1144.7 602.6L1144.7 603.1L1144.8 603.6L1144.8 604.1L1144.9 604.6L1144.9 605.1L1145.0 605.6L1145.1 606.1L1145.1 606.6L1145.2 607.1 M1149.7 654.8L1149.8 655.3L1149.9 655.8L1149.9 656.3L1150.0 656.8L1150.0 657.3L1150.1 657.8L1150.2 658.3L1150.2 658.8L1150.3 659.3 M1157.5 706.8L1157.5 707.3L1157.6 707.8L1157.7 708.2L1157.8 708.7L1157.9 709.2L1158.0 709.7L1158.0 710.2L1158.1 710.7L1158.2 711.2 M1167.3 758.8L1167.4 759.3L1167.5 759.8L1167.6 760.3L1167.7 760.8L1167.9 761.3L1168.0 761.8L1168.1 762.3L1168.2 762.8L1168.3 763.2 M1179.2 810.5L1179.3 811.0L1179.4 811.5L1179.5 812.0L1179.6 812.4L1179.7 812.9L1179.9 813.4L1180.0 813.9L1180.1 814.4L1180.2 814.9L1180.3 815.4 M1188.9 852.9L1189.0 853.4L1189.1 853.9L1189.2 854.4L1189.3 854.8L1189.5 855.3L1189.6 855.8L1189.7 856.3L1189.8 856.8L1190.0 857.3L1190.1 857.8 M1204.2 905.2L1204.3 905.7L1204.5 906.1L1204.7 906.6L1204.8 907.1L1205.0 907.6L1205.1 908.0L1205.3 908.5L1205.5 909.0L1205.6 909.4 M1226.1 957.2L1226.3 957.7L1226.5 958.1L1226.7 958.6L1227.0 959.0L1227.2 959.5L1227.4 959.9L1227.6 960.4L1227.9 960.8L1228.1 961.3L1228.3 961.7 M1255.9 1009.2L1256.2 1009.7L1256.4 1010.1L1256.7 1010.5L1257.0 1010.9L1257.3 1011.3L1257.6 1011.7L1257.9 1012.1L1258.2 1012.5L1258.5 1012.9L1258.8 1013.3L1259.1 1013.7 M1300.6 1060.9L1301.4 1061.6L1302.1 1062.3L1302.8 1063.0L1303.6 1063.7L1304.3 1064.4L1305.0 1065.1L1305.4 1065.4 M1352.6 1100.6L1353.0 1100.8L1353.5 1101.1L1353.9 1101.4L1354.3 1101.6L1354.8 1101.9L1355.2 1102.1L1355.6 1102.4L1356.0 1102.6L1356.5 1102.9L1356.9 1103.2L1357.3 1103.4 M1404.8 1128.0L1405.2 1128.2L1405.7 1128.3L1406.2 1128.5L1406.6 1128.6L1407.1 1128.8L1407.6 1129.0L1408.1 1129.1L1408.5 1129.3L1409.0 1129.4 M1456.7 1138.0L1457.2 1138.1L1457.7 1138.1L1458.2 1138.2L1458.7 1138.3L1459.2 1138.4L1459.7 1138.4L1460.2 1138.5L1460.6 1138.6L1461.1 1138.6 M1508.8 1144.6L1509.3 1144.6L1509.8 1144.7L1510.3 1144.7L1510.8 1144.8L1511.3 1144.8L1511.8 1144.9L1512.3 1144.9L1512.7 1145.0L1513.2 1145.0 M1560.6 1149.0L1561.1 1149.0L1561.6 1149.1L1562.1 1149.1L1562.6 1149.1L1563.1 1149.2L1563.6 1149.2L1564.1 1149.3L1564.6 1149.3L1565.1 1149.3 M1612.5 1152.6L1613.0 1152.7L1613.4 1152.7L1613.9 1152.7L1614.4 1152.8L1614.9 1152.8L1615.4 1152.8L1615.9 1152.9L1616.4 1152.9L1616.9 1152.9L1617.4 1153.0 M1664.8 1156.4L1665.3 1156.4L1665.8 1156.5L1666.3 1156.5L1666.8 1156.5L1667.3 1156.6L1667.8 1156.6L1668.3 1156.6L1668.8 1156.7L1669.3 1156.7 M1716.7 1159.3L1717.2 1159.3L1717.7 1159.4L1718.2 1159.4L1718.7 1159.4L1719.2 1159.4L1719.7 1159.5L1720.2 1159.5L1720.7 1159.5L1721.2 1159.6 M1768.7 1162.2L1769.2 1162.2L1769.7 1162.3L1770.2 1162.3L1770.6 1162.3L1771.1 1162.3L1771.6 1162.4L1772.1 1162.4L1772.6 1162.4L1773.1 1162.5 M1820.5 1166.0L1821.0 1166.0L1821.5 1166.1L1822.0 1166.1L1822.5 1166.1L1823.0 1166.2L1823.5 1166.2L1824.0 1166.2L1824.5 1166.3L1825.0 1166.3" fill="none" stroke="#000" stroke-width="10" stroke-linecap="round" stroke-linejoin="round"/>
<path d="M242.2 820.0L242.2 820.5L242.2 821.0L242.3 821.5L242.3 822.0L242.3 822.5L242.3 823.0L242.3 823.5L242.3 824.0L242.3 824.5L242.3 825.0 M242.5 855.0L242.6 862.0L242.6 869.0L242.7 876.0L242.8 883.0L242.8 890.0L242.9 897.0L243.0 899.5 M243.7 930.0L243.7 930.5L243.7 931.0L243.7 931.5L243.7 932.0L243.7 932.5L243.8 933.0L243.8 933.5L243.8 934.0L243.8 934.5L243.8 935.0 M245.5 964.9L246.2 972.4L246.9 979.9L247.7 987.3L248.6 994.8L249.5 1002.2L250.5 1009.7 M256.1 1040.1L256.3 1040.6L256.4 1041.1L256.6 1041.6L256.7 1042.0L256.8 1042.5L257.0 1043.0L257.1 1043.5L257.3 1043.9L257.5 1044.4L257.6 1044.9 M283.2 1059.5L290.7 1059.6L298.2 1059.6L305.7 1059.7L313.2 1059.7L320.7 1059.7L328.2 1059.6 M358.2 1058.1L358.7 1058.1L359.2 1058.1L359.7 1058.0L360.2 1058.0L360.7 1057.9L361.2 1057.9L361.7 1057.9L362.2 1057.8L362.7 1057.8L363.2 1057.7 M393.5 1055.2L400.5 1054.8L407.5 1054.4L414.5 1054.1L421.5 1053.7L428.5 1053.3L435.5 1052.9L438.0 1052.7 M468.3 1049.6L468.8 1049.6L469.3 1049.5L469.8 1049.4L470.3 1049.3L470.8 1049.3L471.3 1049.2L471.8 1049.1L472.3 1049.1L472.8 1049.0L473.3 1048.9 M503.4 1044.0L510.8 1043.1L518.3 1042.4L525.7 1041.6L533.2 1040.8L540.6 1039.9L548.1 1038.9 M578.3 1032.2L578.8 1032.1L579.3 1031.9L579.8 1031.8L580.3 1031.7L580.7 1031.6L581.2 1031.5L581.7 1031.4L582.2 1031.3L582.7 1031.2L583.2 1031.1 M613.4 1024.2L620.7 1022.4L628.0 1020.6L635.2 1018.7L642.5 1016.8L649.7 1014.8L656.9 1012.7L657.9 1012.4 M688.2 1000.8L688.7 1000.6L689.1 1000.4L689.6 1000.2L690.1 1000.1L690.5 999.9L691.0 999.7L691.5 999.5L691.9 999.3L692.4 999.1L692.8 998.9L693.3 998.7 M723.5 985.4L731.2 981.8L738.9 978.1L746.4 974.2L753.8 969.9L760.9 965.4L767.9 960.5 M795.7 932.0L796.4 931.2L797.0 930.4L797.6 929.7L798.3 928.9L798.9 928.1L799.5 927.3L799.9 926.9 M822.8 896.7L827.5 889.6L832.0 882.3L836.2 875.0L840.6 867.7L844.9 860.4L849.0 852.9L849.4 852.0 M863.5 821.6L863.7 821.2L863.9 820.7L864.1 820.2L864.3 819.8L864.5 819.3L864.6 818.9L864.8 818.4L865.0 817.9L865.2 817.5L865.4 817.0 M877.0 788.3L879.6 781.2L881.9 774.1L884.1 766.9L886.2 759.7L888.2 752.5L890.2 745.3 M898.5 714.9L898.6 714.4L898.7 713.9L898.9 713.4L899.0 712.9L899.1 712.5L899.3 712.0L899.4 711.5L899.6 711.0L899.7 710.5L899.8 710.1 M908.2 679.7L910.1 672.5L912.1 665.2L914.1 658.0L916.0 650.7L917.9 643.5L919.8 636.2L920.1 635.3 M927.9 605.3L928.0 604.8L928.1 604.3L928.3 603.8L928.4 603.3L928.5 602.8L928.6 602.4L928.8 601.9L928.9 601.4L929.0 600.9L929.1 600.4L929.3 599.9 M936.2 569.7L937.8 562.4L939.3 555.0L940.8 547.7L942.3 540.4L943.8 533.0L945.2 525.6L945.3 525.1 M951.7 494.8L951.9 494.3L952.0 493.8L952.1 493.4L952.2 492.9L952.3 492.4L952.4 491.9L952.5 491.4L952.7 490.9L952.8 490.4L952.9 490.0 M960.1 459.8L961.7 452.5L963.2 445.1L964.7 437.8L966.1 430.4L967.7 423.1L969.3 415.8L969.4 415.3 M975.0 385.3L975.0 384.8L975.1 384.3L975.2 383.8L975.3 383.3L975.4 382.8L975.4 382.3L975.5 381.8L975.6 381.3L975.7 380.8L975.8 380.3L975.9 379.9 M980.7 349.7L981.9 342.3L983.1 334.9L984.3 327.5L985.5 320.1L986.6 312.7L987.9 305.3 M994.1 275.0L994.2 274.5L994.3 274.0L994.4 273.5L994.5 273.0L994.6 272.5L994.8 272.0L994.9 271.5L995.0 271.1L995.1 270.6L995.2 270.1 M1003.0 239.6L1004.7 232.2L1006.2 224.9L1007.7 217.6L1009.1 210.2L1010.7 202.9L1012.3 195.5L1012.4 195.1 M1021.1 165.3L1021.2 164.8L1021.4 164.3L1021.6 163.9L1021.7 163.4L1021.9 162.9L1022.1 162.5L1022.3 162.0L1022.4 161.5L1022.6 161.1L1022.8 160.6L1023.0 160.1 M1044.9 147.1L1047.6 154.0L1049.6 161.3L1051.6 168.5L1053.7 175.7L1055.8 182.9L1057.7 190.2L1058.0 191.6 M1063.7 222.1L1063.8 222.6L1063.8 223.1L1063.9 223.6L1064.0 224.1L1064.1 224.6L1064.2 225.1L1064.2 225.5L1064.3 226.0L1064.4 226.5L1064.5 227.0 M1069.2 257.2L1070.4 264.6L1071.6 272.0L1072.7 279.4L1073.9 286.8L1075.0 294.2L1076.1 301.6 M1080.1 331.9L1080.2 332.4L1080.3 332.9L1080.3 333.3L1080.4 333.8L1080.4 334.3L1080.5 334.8L1080.6 335.3L1080.6 335.8L1080.7 336.3L1080.7 336.8L1080.8 337.3 M1084.0 367.1L1084.9 374.6L1085.8 382.0L1086.8 389.5L1087.7 396.9L1088.7 404.4L1089.6 411.8 M1093.7 442.0L1093.8 442.5L1093.9 443.0L1093.9 443.5L1094.0 444.0L1094.1 444.5L1094.1 445.0L1094.2 445.5L1094.3 446.0L1094.3 446.5L1094.4 447.0 M1098.4 477.2L1099.2 484.7L1099.9 492.1L1100.7 499.6L1101.4 507.1L1102.1 514.5L1102.8 522.0 M1105.7 551.8L1105.8 552.3L1105.9 552.8L1105.9 553.3L1106.0 553.8L1106.1 554.3L1106.1 554.8L1106.2 555.3L1106.2 555.8L1106.3 556.3L1106.4 556.8L1106.4 557.3 M1111.3 587.4L1112.6 594.8L1114.0 602.2L1115.5 609.5L1116.9 616.9L1118.3 624.3L1119.6 631.6 M1123.9 661.8L1123.9 662.3L1124.0 662.8L1124.0 663.3L1124.1 663.8L1124.2 664.3L1124.2 664.8L1124.3 665.3L1124.3 665.8L1124.4 666.3L1124.4 666.8L1124.5 667.3 M1128.2 697.6L1129.5 704.9L1130.9 712.3L1132.3 719.7L1133.8 727.0L1135.3 734.4L1136.8 741.7 M1142.8 772.1L1142.9 772.6L1143.0 773.1L1143.2 773.6L1143.3 774.1L1143.4 774.6L1143.5 775.1L1143.7 775.5L1143.8 776.0L1143.9 776.5L1144.1 777.0 M1152.4 805.8L1154.0 812.6L1155.5 819.4L1157.0 826.3L1158.4 833.1L1159.9 840.0L1161.6 846.8L1162.1 848.7 M1172.9 878.8L1173.1 879.3L1173.2 879.7L1173.4 880.2L1173.5 880.7L1173.7 881.2L1173.9 881.6L1174.0 882.1L1174.2 882.6L1174.3 883.1L1174.4 883.6L1174.6 884.0 M1182.8 914.4L1186.5 922.0L1191.0 929.3L1195.6 936.4L1200.2 943.5L1204.8 950.7L1209.5 957.8L1210.1 958.6 M1234.0 988.7L1234.7 989.5L1235.4 990.2L1236.1 990.9L1236.7 991.7L1237.4 992.4L1238.1 993.1L1238.8 993.8L1239.2 994.2 M1269.0 1020.7L1276.1 1025.5L1283.3 1030.0L1290.6 1034.3L1298.0 1038.4L1305.6 1042.2L1313.3 1045.8L1313.8 1046.0 M1343.8 1055.3L1344.3 1055.4L1344.8 1055.5L1345.3 1055.6L1345.8 1055.7L1346.3 1055.8L1346.7 1055.9L1347.2 1056.0L1347.7 1056.1L1348.2 1056.2L1348.7 1056.3 M1379.0 1060.1L1386.3 1061.5L1393.6 1063.5L1400.7 1065.6L1407.9 1067.9L1415.0 1070.2L1422.3 1072.1L1423.7 1072.5 M1454.0 1076.3L1454.5 1076.4L1455.0 1076.4L1455.5 1076.5L1455.9 1076.5L1456.4 1076.5L1456.9 1076.6L1457.4 1076.6L1457.9 1076.7L1458.4 1076.7L1458.9 1076.8 M1488.9 1078.9L1495.9 1079.3L1502.8 1079.6L1509.8 1080.0L1516.8 1080.3L1523.8 1080.7L1530.8 1081.0L1533.3 1081.1 M1563.8 1082.0L1564.3 1082.0L1564.8 1082.0L1565.3 1082.0L1565.8 1082.0L1566.3 1082.0L1566.8 1082.0L1567.3 1082.0L1567.8 1082.0L1568.3 1082.0L1568.8 1082.0 M1598.8 1082.3L1605.8 1082.3L1612.8 1082.3L1619.8 1082.3L1626.8 1082.2L1633.8 1082.2L1640.8 1082.2L1643.3 1082.2 M1673.8 1082.1L1674.3 1082.1L1674.8 1082.0L1675.3 1082.0L1675.8 1082.0L1676.3 1082.0L1676.8 1082.0L1677.3 1082.0L1677.8 1082.0L1678.3 1082.0L1678.8 1082.0 M1708.8 1082.0L1715.8 1082.0L1722.8 1082.0L1729.8 1082.0L1736.8 1082.0L1743.8 1082.0L1750.8 1082.0L1753.3 1082.0 M1783.8 1082.0L1784.3 1082.0L1784.8 1082.0L1785.3 1082.0L1785.8 1082.0L1786.3 1082.0L1786.8 1082.0L1787.3 1082.0L1787.8 1082.0L1788.3 1082.0L1788.8 1082.0 M1818.8 1082.0L1823.3 1082.0L1827.8 1082.0L1832.3 1082.0L1836.8 1082.0L1841.3 1082.0L1845.5 1082.0L1846.8 1082.0" fill="none" stroke="#000" stroke-width="10" stroke-linecap="round" stroke-linejoin="round"/>
<path d="M242.2 802.5L242.2 803.0L242.3 803.5L242.3 804.0L242.3 804.5L242.3 805.0L242.3 805.5L242.3 806.0L242.3 806.5L242.3 807.0L242.3 807.5L242.3 808.0 M243.0 838.0L243.1 843.0L243.1 848.0L243.2 853.0L243.3 858.0L243.4 863.0L243.5 868.0L243.5 870.0 M244.3 899.5L244.3 900.0L244.3 900.5L244.3 901.0L244.3 901.5L244.4 902.0L244.4 902.5L244.4 903.0L244.4 903.5L244.4 904.0L244.4 904.5L244.4 905.0 M245.7 934.9L245.7 935.4L245.7 935.9L245.8 936.4L245.8 936.9L245.8 937.4L245.9 937.9L245.9 938.4L245.9 938.9L246.0 939.4L246.0 939.9L246.0 940.4 M248.8 969.8L249.4 974.8L250.0 979.7L250.6 984.7L251.2 989.7L251.9 994.6L252.6 999.6L252.9 1002.0 M258.2 1031.6L258.4 1032.5L258.6 1033.5L258.9 1034.5L259.1 1035.5L259.3 1036.4L259.6 1037.4 M273.7 1066.1L274.5 1066.6L275.4 1067.1L276.3 1067.6L277.1 1068.1L278.0 1068.5L278.9 1068.9L279.4 1069.1 M309.0 1072.2L314.0 1072.3L319.0 1072.3L324.0 1072.4L329.0 1072.4L334.0 1072.4L339.0 1072.5L341.0 1072.5 M370.5 1072.3L371.0 1072.3L371.5 1072.3L372.0 1072.3L372.5 1072.3L373.0 1072.3L373.5 1072.3L374.0 1072.3L374.5 1072.3L375.0 1072.3L375.5 1072.3L376.0 1072.3 M406.0 1071.5L406.5 1071.5L407.0 1071.5L407.5 1071.4L408.0 1071.4L408.5 1071.4L409.0 1071.3L409.5 1071.3L410.0 1071.3L410.5 1071.2L411.0 1071.2L411.5 1071.2 M440.9 1068.6L445.9 1068.1L450.8 1067.6L455.8 1067.1L460.8 1066.6L465.8 1066.1L470.7 1065.6L473.2 1065.4 M503.1 1063.3L503.6 1063.2L504.1 1063.2L504.6 1063.1L505.1 1063.1L505.6 1063.0L506.1 1063.0L506.6 1062.9L507.1 1062.8L507.6 1062.8L508.1 1062.7L508.6 1062.7 M538.2 1057.5L538.7 1057.4L539.1 1057.4L539.6 1057.3L540.1 1057.2L540.6 1057.1L541.1 1057.0L541.6 1056.9L542.1 1056.8L542.6 1056.7L543.1 1056.6L543.6 1056.5 M573.4 1050.3L578.3 1049.3L583.2 1048.3L588.1 1047.3L593.0 1046.2L597.9 1045.2L602.8 1044.1L605.2 1043.5 M635.2 1034.0L635.7 1033.8L636.2 1033.6L636.6 1033.5L637.1 1033.3L637.6 1033.2L638.0 1033.0L638.5 1032.8L639.0 1032.7L639.5 1032.5L639.9 1032.3L640.4 1032.2 M670.1 1021.6L671.0 1021.2L671.9 1020.8L672.9 1020.5L673.8 1020.1L674.7 1019.7L675.6 1019.3L676.1 1019.1 M705.6 1004.4L710.6 1002.2L715.7 999.9L720.7 997.6L725.6 995.3L730.6 992.9L735.5 990.5L737.7 989.3 M767.3 963.3L768.0 962.6L768.8 961.9L769.5 961.3L770.2 960.6L771.0 959.9L771.7 959.2L772.4 958.5L772.8 958.2 M799.6 928.5L800.2 927.7L800.8 927.0L801.5 926.2L802.1 925.4L802.7 924.6L803.4 923.9L804.0 923.1 M826.1 893.4L829.3 888.4L832.4 883.2L835.5 878.1L838.5 872.9L841.5 867.7L844.6 862.5L845.3 861.2 M860.0 831.7L860.4 830.8L860.9 829.9L861.3 829.0L861.7 828.1L862.1 827.1L862.5 826.2 M874.9 796.2L875.3 795.3L875.6 794.3L876.0 793.4L876.4 792.5L876.7 791.6L877.1 790.6 M886.8 761.2L888.3 755.9L889.9 750.6L891.5 745.4L893.1 740.1L894.7 734.8L896.2 729.6L896.4 729.1 M904.9 699.3L905.1 698.8L905.2 698.3L905.3 697.8L905.4 697.4L905.6 696.9L905.7 696.4L905.8 695.9L906.0 695.4L906.1 695.0L906.2 694.5L906.4 694.0 M914.9 662.1L915.1 661.6L915.2 661.2L915.3 660.7L915.5 660.2L915.6 659.7L915.7 659.2L915.9 658.7L916.0 658.3L916.1 657.8L916.2 657.3L916.4 656.8 M924.2 626.8L925.6 621.5L927.0 616.2L928.4 610.9L929.8 605.5L931.2 600.2L932.5 594.9 M939.2 565.1L939.3 564.6L939.4 564.1L939.5 563.7L939.6 563.2L939.7 562.7L939.8 562.2L939.9 561.7L940.0 561.2L940.1 560.7L940.2 560.2L940.3 559.7 M946.4 529.9L946.5 529.4L946.6 528.9L946.7 528.4L946.8 527.9L946.9 527.4L947.0 526.9L947.1 526.4L947.2 525.9L947.3 525.4L947.4 524.9L947.5 524.5 M953.8 494.6L955.0 489.3L956.3 483.9L957.6 478.6L958.9 473.2L960.2 467.9L961.5 462.5 M967.6 433.2L967.8 432.2L968.0 431.2L968.2 430.2L968.4 429.2L968.6 428.3L968.8 427.3 M974.8 397.9L974.8 397.4L974.9 396.9L975.0 396.4L975.1 395.9L975.2 395.4L975.3 394.9L975.4 394.4L975.5 393.9L975.5 393.5L975.6 393.0L975.7 392.5 M980.6 362.9L981.5 357.4L982.3 352.0L983.2 346.6L984.1 341.1L984.9 335.7L985.8 330.3 M990.7 300.7L990.8 300.2L990.9 299.7L991.0 299.2L991.1 298.7L991.1 298.2L991.2 297.7L991.3 297.2L991.4 296.7L991.5 296.3L991.6 295.8L991.7 295.3 M998.2 265.5L998.3 265.0L998.4 264.5L998.6 264.0L998.7 263.5L998.8 263.1L998.9 262.6L999.1 262.1L999.2 261.6L999.4 261.1L999.5 260.7L999.6 260.2 M1008.3 230.4L1010.0 224.6L1011.9 219.0L1014.4 213.5L1017.5 208.4L1021.2 203.8L1025.8 200.0L1026.6 199.7 M1038.6 226.2L1038.7 226.7L1038.8 227.2L1038.9 227.7L1039.0 228.2L1039.1 228.6L1039.3 229.1L1039.4 229.6L1039.5 230.1L1039.6 230.6L1039.7 231.1L1039.9 231.6 M1047.8 261.5L1047.9 262.0L1048.0 262.5L1048.1 263.0L1048.2 263.5L1048.3 264.0L1048.4 264.5L1048.5 264.9L1048.6 265.4L1048.7 265.9L1048.8 266.4L1048.9 266.9 M1053.9 296.5L1054.9 301.9L1056.0 307.3L1057.1 312.7L1058.1 318.1L1059.1 323.5L1060.1 328.9 M1063.5 358.2L1063.7 359.2L1063.8 360.2L1063.9 361.2L1064.0 362.2L1064.2 363.1L1064.3 364.1 M1068.7 393.8L1068.8 394.3L1068.8 394.8L1068.9 395.3L1069.0 395.8L1069.0 396.3L1069.1 396.8L1069.1 397.3L1069.2 397.8L1069.2 398.3L1069.2 398.8L1069.3 399.3 M1071.4 428.7L1072.2 434.1L1073.2 439.5L1074.3 444.9L1075.4 450.3L1076.4 455.7L1077.3 461.2 M1080.6 490.5L1080.6 491.0L1080.7 491.5L1080.8 492.0L1080.8 492.5L1080.9 492.9L1080.9 493.4L1081.0 493.9L1081.1 494.4L1081.1 494.9L1081.2 495.4L1081.3 495.9 M1085.6 525.6L1085.8 526.6L1085.9 527.6L1086.1 528.6L1086.3 529.6L1086.4 530.5L1086.6 531.5 M1091.4 561.1L1092.0 566.1L1092.5 571.1L1093.0 576.0L1093.5 581.0L1093.9 586.0L1094.4 591.0L1094.7 593.0 M1098.5 622.7L1098.6 623.2L1098.7 623.7L1098.7 624.2L1098.8 624.7L1098.9 625.2L1099.0 625.7L1099.0 626.2L1099.1 626.7L1099.2 627.2L1099.2 627.7L1099.3 628.2 M1103.7 657.8L1103.8 658.8L1104.0 659.8L1104.1 660.8L1104.3 661.8L1104.4 662.8L1104.6 663.8 M1109.5 693.4L1110.3 698.3L1111.1 703.2L1111.8 708.2L1112.6 713.1L1113.3 718.1L1114.1 723.0L1114.6 725.5 M1120.4 754.9L1120.5 755.4L1120.6 755.9L1120.7 756.4L1120.8 756.9L1120.9 757.3L1121.0 757.8L1121.1 758.3L1121.1 758.8L1121.2 759.3L1121.3 759.8L1121.4 760.3 M1126.7 790.3L1126.8 790.8L1126.9 791.3L1127.0 791.8L1127.1 792.3L1127.2 792.8L1127.3 793.3L1127.4 793.8L1127.5 794.3L1127.6 794.7L1127.7 795.2L1127.8 795.7 M1134.5 825.5L1135.6 830.4L1136.6 835.3L1137.6 840.1L1138.7 845.0L1139.8 849.9L1140.9 854.8L1141.5 857.2 M1150.9 886.7L1151.2 887.7L1151.5 888.6L1151.9 889.6L1152.2 890.5L1152.5 891.5L1152.8 892.4 M1162.9 921.7L1163.2 922.7L1163.6 923.6L1163.9 924.6L1164.3 925.5L1164.6 926.4L1164.9 927.4 M1176.6 957.2L1179.4 962.5L1182.3 967.7L1185.5 972.8L1188.7 977.9L1192.0 982.9L1195.4 987.8L1196.5 989.5 M1219.0 1018.8L1219.7 1019.6L1220.4 1020.3L1221.1 1021.0L1221.8 1021.7L1222.5 1022.4L1223.2 1023.1L1223.9 1023.8L1224.6 1024.5 M1254.0 1048.5L1254.9 1049.1L1255.7 1049.7L1256.5 1050.2L1257.3 1050.8L1258.1 1051.4L1259.0 1051.9L1259.8 1052.5 M1289.2 1069.5L1294.2 1071.9L1299.2 1074.1L1304.3 1076.2L1309.4 1078.2L1314.5 1080.2L1319.7 1082.1L1321.5 1082.8 M1351.0 1092.6L1351.9 1092.8L1352.9 1093.1L1353.8 1093.4L1354.8 1093.6L1355.8 1093.9L1356.7 1094.1 M1386.5 1100.7L1387.0 1100.8L1387.5 1100.9L1388.0 1101.0L1388.5 1101.1L1389.0 1101.2L1389.5 1101.2L1390.0 1101.3L1390.5 1101.4L1391.0 1101.5L1391.4 1101.6L1391.9 1101.7 M1421.7 1105.8L1426.6 1106.7L1431.5 1107.6L1436.4 1108.5L1441.3 1109.4L1446.2 1110.3L1451.2 1111.1L1453.6 1111.5 M1483.6 1113.0L1484.1 1113.0L1484.6 1113.0L1485.1 1113.0L1485.6 1113.0L1486.1 1113.1L1486.6 1113.1L1487.1 1113.1L1487.6 1113.1L1488.1 1113.2L1488.6 1113.2L1489.1 1113.2 M1518.5 1114.9L1519.0 1114.9L1519.5 1114.9L1520.0 1115.0L1520.5 1115.0L1521.0 1115.0L1521.5 1115.0L1522.0 1115.0L1522.5 1115.1L1523.0 1115.1L1523.5 1115.1L1524.0 1115.1 M1553.5 1116.3L1558.5 1116.5L1563.5 1116.6L1568.5 1116.8L1573.5 1116.9L1578.5 1117.1L1583.5 1117.2L1586.0 1117.3 M1615.5 1118.0L1616.0 1118.0L1616.5 1118.0L1617.0 1118.0L1617.5 1118.0L1618.0 1118.0L1618.5 1118.0L1619.0 1118.0L1619.5 1118.1L1620.0 1118.1L1620.5 1118.1L1621.0 1118.1 M1651.0 1118.7L1651.5 1118.7L1652.0 1118.7L1652.5 1118.7L1653.0 1118.7L1653.5 1118.7L1654.0 1118.8L1654.5 1118.8L1655.0 1118.8L1655.5 1118.8L1656.0 1118.8L1656.5 1118.8 M1686.0 1119.3L1691.0 1119.4L1696.0 1119.4L1701.0 1119.5L1706.0 1119.6L1711.0 1119.6L1716.0 1119.7L1718.0 1119.7 M1748.0 1120.1L1748.5 1120.1L1749.0 1120.1L1749.5 1120.1L1750.0 1120.1L1750.5 1120.1L1751.0 1120.1L1751.5 1120.1L1752.0 1120.1L1752.5 1120.1L1753.0 1120.1L1753.5 1120.1 M1783.0 1120.4L1783.5 1120.4L1784.0 1120.4L1784.5 1120.4L1785.0 1120.4L1785.5 1120.4L1786.0 1120.4L1786.5 1120.4L1787.0 1120.4L1787.5 1120.4L1788.0 1120.4L1788.5 1120.4 M1818.0 1120.7L1823.0 1120.8L1828.0 1120.8L1833.0 1120.9L1838.0 1120.9L1842.9 1120.9L1847.0 1121.0" fill="none" stroke="#000" stroke-width="10" stroke-linecap="round" stroke-linejoin="round"/>
<path d="M241.5 956.0L241.6 957.3L241.7 959.1L241.8 961.0L241.9 963.0L242.0 965.0L242.1 967.0L242.2 969.0L242.2 971.0L242.3 973.0L242.4 975.0L242.5 977.0L242.6 979.0L242.8 981.0L242.9 983.0L243.0 985.0L243.1 987.0L243.3 989.0L243.4 990.9L243.6 992.9L243.7 994.9L243.9 996.9L244.0 998.9L244.2 1000.9L244.4 1002.9L244.5 1004.9L244.7 1006.9L244.9 1008.9L245.1 1010.9L245.3 1012.9L245.4 1014.9L245.6 1016.9L245.8 1018.8L246.0 1020.8L246.1 1022.8L246.3 1024.8L246.5 1026.8L246.8 1028.8L247.0 1030.8L247.2 1032.8L247.5 1034.8L247.7 1036.7L248.0 1038.7L248.3 1040.7L248.6 1042.7L248.9 1044.6L249.3 1046.6L249.6 1048.6L250.0 1050.5L250.4 1052.5L250.9 1054.4L251.4 1056.4L251.9 1058.3L252.5 1060.2L253.1 1062.1L253.7 1064.0L254.4 1065.9L255.1 1067.8L255.9 1069.6L256.6 1071.5L257.4 1073.3L258.2 1075.2L259.0 1077.0L260.0 1078.7L261.0 1080.4L262.2 1082.0L263.5 1083.5L265.0 1084.8L266.6 1086.0L268.3 1087.0L270.1 1087.7L272.0 1088.1L274.0 1088.2L276.0 1088.1L278.0 1088.0L280.0 1087.8L282.0 1087.7L283.9 1087.4L285.9 1087.2L287.9 1087.0L289.9 1086.8L291.9 1086.6L293.9 1086.4L295.9 1086.2L297.9 1086.1L299.9 1086.0L301.9 1085.9L303.9 1085.9L305.9 1085.8L307.9 1085.8L309.9 1085.7L311.9 1085.7L313.9 1085.6L315.9 1085.6L317.9 1085.6L319.9 1085.6L321.9 1085.5L323.9 1085.5L325.9 1085.5L327.9 1085.5L329.9 1085.5L331.9 1085.5L333.9 1085.5L335.9 1085.5L337.9 1085.5L339.9 1085.5L341.9 1085.5L343.9 1085.5L345.9 1085.5L347.9 1085.5L349.9 1085.5L351.9 1085.5L353.9 1085.5L355.9 1085.5L357.9 1085.5L359.9 1085.6L361.9 1085.6L363.9 1085.6L365.9 1085.6L367.9 1085.6L369.9 1085.6L371.9 1085.6L373.9 1085.7L375.9 1085.7L377.9 1085.7L379.9 1085.7L381.9 1085.7L383.9 1085.7L385.9 1085.8L387.9 1085.8L389.9 1085.8L391.9 1085.8L393.9 1085.8L395.9 1085.9L397.9 1085.9L399.9 1085.9L401.9 1085.9L403.9 1086.0L405.9 1086.0L407.9 1086.0L409.9 1086.0L411.9 1086.0L413.9 1086.1L415.9 1086.1L417.9 1086.1L419.9 1086.1L421.9 1086.2L423.9 1086.2L425.9 1086.2L427.9 1086.2L429.9 1086.2L431.9 1086.3L433.9 1086.3L435.9 1086.3L437.9 1086.3L439.9 1086.4L441.9 1086.4L443.9 1086.4L445.9 1086.4L447.9 1086.5L449.9 1086.5L451.9 1086.5L453.9 1086.5L455.9 1086.6L457.9 1086.6L459.9 1086.6L461.9 1086.6L463.9 1086.6L465.9 1086.7L467.9 1086.7L469.9 1086.7L471.9 1086.7L473.9 1086.8L475.9 1086.8L477.9 1086.8L479.9 1086.8L481.9 1086.8L483.9 1086.9L485.9 1086.9L487.9 1086.9L489.9 1086.9L491.9 1086.9L493.9 1087.0L495.9 1087.0L497.9 1087.0L499.9 1087.0L501.9 1087.0L503.9 1087.0L505.9 1087.0L507.9 1087.1L509.9 1087.1L511.9 1087.1L513.9 1087.1L515.9 1087.1L517.9 1087.1L519.9 1087.2L521.9 1087.2L523.9 1087.2L525.9 1087.2L527.9 1087.2L529.9 1087.2L531.9 1087.3L533.9 1087.3L535.9 1087.3L537.9 1087.3L539.9 1087.3L541.9 1087.3L543.9 1087.4L545.9 1087.4L547.9 1087.4L549.9 1087.4L551.9 1087.4L553.9 1087.5L555.9 1087.5L557.9 1087.5L559.9 1087.5L561.9 1087.5L563.9 1087.5L565.9 1087.6L567.9 1087.6L569.9 1087.6L571.9 1087.6L573.9 1087.6L575.9 1087.7L577.9 1087.7L579.9 1087.7L581.9 1087.7L583.9 1087.7L585.9 1087.8L587.9 1087.8L589.9 1087.8L591.9 1087.8L593.9 1087.8L595.9 1087.9L597.9 1087.9L599.9 1087.9L601.9 1087.9L603.9 1087.9L605.9 1088.0L607.9 1088.0L609.9 1088.0L611.9 1088.0L613.9 1088.0L615.9 1088.1L617.9 1088.1L619.9 1088.1L621.9 1088.1L623.9 1088.1L625.9 1088.2L627.9 1088.2L629.9 1088.2L631.9 1088.2L633.9 1088.3L635.9 1088.3L637.9 1088.3L639.9 1088.3L641.9 1088.3L643.9 1088.4L645.9 1088.4L647.8 1088.4L649.8 1088.4L651.8 1088.5L653.8 1088.5L655.8 1088.5L657.8 1088.5L659.8 1088.5L661.8 1088.6L663.8 1088.6L665.8 1088.6L667.8 1088.6L669.8 1088.7L671.8 1088.7L673.8 1088.7L675.8 1088.7L677.8 1088.7L679.8 1088.8L681.8 1088.8L683.8 1088.8L685.8 1088.8L687.8 1088.9L689.8 1088.9L691.8 1088.9L693.8 1088.9L695.8 1089.0L697.8 1089.0L699.8 1089.0L701.8 1089.0L703.8 1089.0L705.8 1089.1L707.8 1089.1L709.8 1089.1L711.8 1089.1L713.8 1089.2L715.8 1089.2L717.8 1089.2L719.8 1089.2L721.8 1089.3L723.8 1089.3L725.8 1089.3L727.8 1089.3L729.8 1089.3L731.8 1089.4L733.8 1089.4L735.8 1089.4L737.8 1089.4L739.8 1089.5L741.8 1089.5L743.8 1089.5L745.8 1089.5L747.8 1089.5L749.8 1089.6L751.8 1089.6L753.8 1089.6L755.8 1089.6L757.8 1089.7L759.8 1089.7L761.8 1089.7L763.8 1089.7L765.8 1089.8L767.8 1089.8L769.8 1089.8L771.8 1089.8L773.8 1089.9L775.8 1089.9L777.8 1089.9L779.8 1089.9L781.8 1090.0L783.8 1090.0L785.8 1090.0L787.8 1090.0L789.8 1090.1L791.8 1090.1L793.8 1090.1L795.8 1090.1L797.8 1090.2L799.8 1090.2L801.8 1090.2L803.8 1090.2L805.8 1090.3L807.8 1090.3L809.8 1090.3L811.8 1090.4L813.8 1090.4L815.8 1090.4L817.8 1090.5L819.8 1090.5L821.8 1090.5L823.8 1090.5L825.8 1090.6L827.8 1090.6L829.8 1090.6L831.8 1090.7L833.8 1090.7L835.8 1090.7L837.8 1090.8L839.8 1090.8L841.8 1090.8L843.8 1090.9L845.8 1090.9L847.8 1091.0L849.8 1091.0L851.8 1091.0L853.8 1091.1L855.8 1091.1L857.8 1091.2L859.8 1091.2L861.8 1091.2L863.8 1091.3L865.8 1091.3L867.8 1091.4L869.8 1091.4L871.8 1091.5L873.8 1091.5L875.8 1091.6L877.8 1091.6L879.8 1091.7L881.8 1091.7L883.8 1091.8L885.8 1091.8L887.8 1091.9L889.8 1091.9L891.8 1092.0L893.8 1092.0L895.8 1092.1L897.8 1092.1L899.8 1092.2L901.8 1092.2L903.8 1092.3L905.8 1092.3L907.8 1092.4L909.8 1092.5L911.8 1092.5L913.8 1092.6L915.8 1092.6L917.8 1092.7L919.8 1092.7L921.8 1092.8L923.8 1092.8L925.8 1092.9L927.8 1092.9L929.8 1093.0L931.8 1093.0L933.8 1093.1L935.8 1093.2L937.8 1093.2L939.8 1093.3L941.8 1093.3L943.8 1093.4L945.8 1093.4L947.8 1093.4L949.8 1093.5L951.8 1093.5L953.8 1093.6L955.8 1093.6L957.8 1093.7L959.8 1093.8L961.8 1093.8L963.8 1093.9L965.8 1093.9L967.8 1094.0L969.8 1094.0L971.8 1094.1L973.8 1094.2L975.8 1094.2L977.8 1094.3L979.8 1094.3L981.8 1094.4L983.8 1094.4L985.8 1094.4L987.8 1094.5L989.8 1094.5L991.8 1094.5L993.8 1094.5L995.8 1094.5L997.8 1094.5L999.8 1094.5L1001.8 1094.5L1003.8 1094.4L1005.8 1094.4L1007.8 1094.4L1009.8 1094.3L1011.8 1094.3L1013.8 1094.2L1015.8 1094.1L1017.8 1094.1L1019.8 1094.0L1021.8 1093.9L1023.8 1093.8L1025.8 1093.7L1027.8 1093.6L1029.8 1093.5L1031.8 1093.4L1033.8 1093.2L1035.8 1093.1L1037.8 1093.0L1039.7 1092.8L1041.7 1092.7L1043.7 1092.5L1045.7 1092.4L1047.7 1092.2L1049.7 1092.0L1051.7 1091.9L1053.7 1091.7L1055.7 1091.5L1057.7 1091.3L1059.7 1091.1L1061.7 1090.9L1063.6 1090.7L1065.6 1090.5L1067.6 1090.2L1069.6 1090.0L1071.6 1089.8L1073.6 1089.6L1075.6 1089.3L1077.6 1089.1L1079.5 1088.9L1081.5 1088.6L1083.5 1088.4L1085.5 1088.1L1087.5 1087.9L1089.5 1087.6L1091.4 1087.3L1093.4 1087.1L1095.4 1086.8L1097.4 1086.5L1099.4 1086.3L1101.4 1086.0L1103.3 1085.8L1105.3 1085.5L1107.3 1085.2L1109.3 1085.0L1111.3 1084.7L1113.3 1084.4L1115.2 1084.1L1117.2 1083.8L1119.2 1083.5L1121.2 1083.2L1123.1 1082.9L1125.1 1082.6L1127.1 1082.2L1129.0 1081.9L1131.0 1081.5L1133.0 1081.1L1134.9 1080.7L1136.9 1080.2L1138.8 1079.8L1140.8 1079.3L1142.7 1078.8L1144.6 1078.3L1146.6 1077.8L1148.5 1077.3L1150.4 1076.7L1152.3 1076.1L1154.2 1075.5L1156.2 1074.9L1158.1 1074.3L1160.0 1073.7L1161.9 1073.1L1163.8 1072.5L1165.7 1071.8L1167.5 1071.2L1169.4 1070.5L1171.3 1069.8L1173.2 1069.2L1175.1 1068.5L1177.0 1067.8L1178.9 1067.2L1180.7 1066.5L1182.6 1065.8L1184.5 1065.1L1186.4 1064.4L1188.2 1063.7L1190.1 1063.0L1192.0 1062.3L1193.8 1061.6L1195.7 1060.8L1197.6 1060.1L1199.4 1059.3L1201.3 1058.6L1203.1 1057.8L1205.0 1057.0L1206.8 1056.2L1208.6 1055.4L1210.4 1054.6L1212.3 1053.8L1214.1 1052.9L1215.9 1052.1L1217.7 1051.2L1219.5 1050.3L1221.3 1049.5L1223.1 1048.6L1224.9 1047.7L1226.6 1046.8L1228.4 1045.9L1230.2 1044.9L1232.0 1044.0L1233.7 1043.1L1235.5 1042.1L1237.2 1041.1L1239.0 1040.1L1240.7 1039.1L1242.4 1038.1L1244.2 1037.1L1245.9 1036.1L1247.6 1035.0L1249.2 1033.9L1250.9 1032.9L1252.6 1031.8L1254.3 1030.6L1255.9 1029.5L1257.5 1028.3L1259.1 1027.2L1260.7 1026.0L1262.3 1024.7L1263.9 1023.5L1265.5 1022.3L1267.1 1021.1L1268.6 1019.8L1270.2 1018.5L1271.7 1017.3L1273.3 1016.0L1274.8 1014.7L1276.3 1013.4L1277.9 1012.1L1279.4 1010.8L1280.9 1009.5L1282.4 1008.2L1283.9 1007.0L1285.5 1005.7L1287.0 1004.4L1288.5 1003.1L1290.1 1001.8L1291.6 1000.5L1293.1 999.2L1294.7 997.9L1296.2 996.7L1297.7 995.4L1299.2 994.1L1300.8 992.8L1302.3 991.5L1303.8 990.2L1305.3 988.9L1306.8 987.6L1308.4 986.3L1309.9 985.0L1311.4 983.6L1312.9 982.3L1314.4 981.0L1315.9 979.7L1317.4 978.3L1318.9 977.0L1320.4 975.7L1321.8 974.3L1323.3 973.0L1324.8 971.7L1326.3 970.3L1327.8 969.0L1329.3 967.6L1330.7 966.3L1332.2 964.9L1333.7 963.6L1335.1 962.2L1336.6 960.8L1338.1 959.5L1339.5 958.1L1341.0 956.7L1342.4 955.4L1343.9 954.0L1345.3 952.6L1346.7 951.2L1348.2 949.8L1349.6 948.4L1351.0 947.0L1352.4 945.6L1353.8 944.1L1355.2 942.7L1356.6 941.2L1358.0 939.8L1359.3 938.3L1360.7 936.9L1362.1 935.4L1363.5 934.0L1364.8 932.5L1366.2 931.1L1367.6 929.6L1369.0 928.2L1370.3 926.7L1371.7 925.3L1373.1 923.9L1374.5 922.4L1375.9 921.0L1377.3 919.6L1378.7 918.1L1380.1 916.7L1381.5 915.2L1382.8 913.8L1384.2 912.3L1385.6 910.9L1387.0 909.4L1388.4 908.0L1389.9 906.7L1391.3 905.3L1392.8 904.0L1394.4 902.7L1396.0 901.5L1397.6 900.3L1399.3 899.2L1401.0 898.2L1402.7 897.2L1404.5 896.3L1406.3 895.4L1408.1 894.6L1409.9 893.8L1411.8 893.0L1413.6 892.3L1415.5 891.6L1417.4 891.0L1419.3 890.4L1421.2 889.8L1423.1 889.2L1425.1 888.7L1427.0 888.2L1429.0 887.8L1431.0 887.5L1432.9 887.2L1434.9 886.9L1436.9 886.7L1438.9 886.4L1440.9 886.2L1442.9 886.1L1444.9 886.0L1446.9 885.9L1448.9 885.9L1450.9 885.8L1452.9 885.8L1454.9 885.8L1456.9 885.7L1458.9 885.6L1460.9 885.6L1462.8 885.7L1464.8 885.8L1466.8 886.1L1468.8 886.5L1470.7 887.0L1472.6 887.5L1474.5 888.2L1476.4 888.9L1478.2 889.6L1480.1 890.4L1481.9 891.2L1483.7 892.1L1485.5 892.9L1487.3 893.8L1489.1 894.7L1490.9 895.6L1492.6 896.6L1494.4 897.5L1496.1 898.5L1497.9 899.5L1499.6 900.5L1501.3 901.6L1503.0 902.7L1504.6 903.8L1506.3 904.9L1507.9 906.0L1509.5 907.2L1511.1 908.4L1512.7 909.7L1514.3 910.9L1515.8 912.2L1517.3 913.5L1518.9 914.8L1520.4 916.1L1521.9 917.4L1523.4 918.7L1524.9 920.0L1526.4 921.4L1527.9 922.7L1529.3 924.1L1530.8 925.4L1532.3 926.7L1533.8 928.1L1535.3 929.4L1536.7 930.8L1538.2 932.2L1539.6 933.6L1541.1 935.0L1542.5 936.3L1543.9 937.8L1545.3 939.2L1546.7 940.6L1548.1 942.0L1549.5 943.5L1550.9 944.9L1552.2 946.4L1553.6 947.9L1554.9 949.4L1556.2 950.9L1557.5 952.4L1558.8 953.9L1560.1 955.4L1561.4 957.0L1562.7 958.5L1564.0 960.0L1565.3 961.5L1566.6 963.1L1567.9 964.6L1569.2 966.1L1570.4 967.7L1571.7 969.2L1573.0 970.7L1574.3 972.2L1575.6 973.7L1577.0 975.3L1578.3 976.8L1579.6 978.3L1580.9 979.8L1582.2 981.3L1583.5 982.8L1584.8 984.3L1586.1 985.8L1587.4 987.4L1588.7 988.9L1590.0 990.4L1591.3 991.9L1592.7 993.4L1594.0 994.9L1595.3 996.4L1596.6 997.9L1597.9 999.4L1599.2 1000.9L1600.5 1002.5L1601.9 1004.0L1603.2 1005.5L1604.5 1007.0L1605.8 1008.5L1607.1 1010.0L1608.4 1011.5L1609.8 1013.0L1611.1 1014.5L1612.4 1016.0L1613.7 1017.5L1615.0 1019.1L1616.2 1020.6L1617.5 1022.1L1618.8 1023.7L1620.1 1025.2L1621.4 1026.7L1622.7 1028.2L1624.0 1029.7L1625.3 1031.2L1626.7 1032.7L1628.0 1034.2L1629.4 1035.7L1630.7 1037.1L1632.1 1038.6L1633.5 1040.0L1634.9 1041.4L1636.4 1042.8L1637.8 1044.2L1639.3 1045.5L1640.8 1046.9L1642.3 1048.2L1643.8 1049.5L1645.3 1050.9L1646.8 1052.1L1648.3 1053.4L1649.9 1054.7L1651.4 1056.0L1653.0 1057.2L1654.6 1058.4L1656.2 1059.6L1657.8 1060.8L1659.4 1062.0L1661.1 1063.1L1662.7 1064.3L1664.4 1065.4L1666.1 1066.4L1667.8 1067.5L1669.5 1068.5L1671.3 1069.4L1673.0 1070.4L1674.8 1071.3L1676.6 1072.1L1678.4 1072.9L1680.3 1073.7L1682.2 1074.4L1684.0 1075.2L1685.9 1075.8L1687.8 1076.5L1689.7 1077.2L1691.6 1077.8L1693.5 1078.5L1695.3 1079.1L1697.2 1079.8L1699.1 1080.4L1701.0 1081.1L1702.9 1081.7L1704.8 1082.3L1706.7 1082.9L1708.6 1083.6L1710.5 1084.2L1712.4 1084.7L1714.4 1085.3L1716.3 1085.9L1718.2 1086.5L1720.1 1087.0L1722.0 1087.6L1723.9 1088.2L1725.9 1088.8L1727.8 1089.3L1729.7 1089.9L1731.6 1090.5L1733.5 1091.1L1735.4 1091.7L1737.3 1092.3L1739.2 1092.9L1741.1 1093.5L1743.1 1094.1L1745.0 1094.6L1746.9 1095.2L1748.8 1095.8L1750.7 1096.4L1752.6 1096.9L1754.6 1097.5L1756.5 1098.0L1758.4 1098.6L1760.3 1099.1L1762.3 1099.6L1764.2 1100.1L1766.1 1100.6L1768.1 1101.1L1770.0 1101.6L1772.0 1102.1L1773.9 1102.5L1775.8 1103.0L1777.8 1103.5L1779.7 1103.9L1781.7 1104.4L1783.6 1104.8L1785.6 1105.3L1787.5 1105.7L1789.5 1106.1L1791.5 1106.5L1793.4 1106.9L1795.4 1107.3L1797.3 1107.7L1799.3 1108.0L1801.3 1108.4L1803.2 1108.7L1805.2 1109.1L1807.2 1109.4L1809.2 1109.7L1811.1 1110.0L1813.1 1110.3L1815.1 1110.6L1817.1 1110.9L1819.1 1111.1L1821.0 1111.4L1823.0 1111.7L1825.0 1111.9L1827.0 1112.2L1829.0 1112.5L1831.0 1112.7L1832.9 1113.0L1834.9 1113.2L1836.9 1113.5L1838.9 1113.8L1840.9 1114.0L1842.8 1114.3L1844.7 1114.5L1846.3 1114.8L1846.8 1114.8" fill="none" stroke="#ff0000" stroke-width="10" stroke-linecap="round" stroke-linejoin="round"/>
<path d="M241.6 956.0L241.9 960.5L242.3 966.0L242.6 971.5L243.0 976.9L243.4 982.4L243.8 987.9L243.9 988.9 M250.0 1039.5L251.1 1045.4L252.3 1051.3L253.7 1057.1L255.3 1062.9L257.4 1068.6L259.7 1074.1L260.9 1076.3 M308.1 1093.1L314.1 1093.1L320.1 1093.2L326.1 1093.3L332.1 1093.3L338.1 1093.4L344.1 1093.5L344.6 1093.5 M395.1 1094.2L401.1 1094.2L407.1 1094.3L413.1 1094.4L419.1 1094.5L425.1 1094.6L431.1 1094.7L431.6 1094.7 M482.1 1095.4L488.1 1095.5L494.1 1095.5L500.1 1095.6L506.1 1095.7L512.1 1095.8L518.1 1095.9L518.6 1095.9 M569.1 1096.6L575.1 1096.7L581.1 1096.7L587.1 1096.8L593.1 1096.9L599.1 1097.0L605.1 1097.1L605.6 1097.1 M656.1 1097.7L662.1 1097.8L668.1 1097.8L674.1 1097.9L680.1 1098.0L686.1 1098.1L692.1 1098.1L692.6 1098.1 M743.1 1098.7L749.1 1098.8L755.1 1098.9L761.1 1098.9L767.1 1099.0L773.1 1099.1L779.1 1099.2L779.6 1099.2 M830.1 1099.8L836.1 1099.9L842.1 1100.0L848.1 1100.1L854.1 1100.2L860.1 1100.3L866.1 1100.4L866.6 1100.4 M917.1 1101.5L923.1 1101.7L929.0 1101.9L935.0 1102.2L941.0 1102.4L947.0 1102.7L953.0 1103.0L953.5 1103.0 M1004.0 1104.1L1010.0 1103.9L1016.0 1103.6L1022.0 1103.3L1028.0 1102.9L1033.9 1102.4L1039.9 1101.7L1040.9 1101.5 M1090.9 1082.0L1097.0 1079.8L1103.1 1077.6L1109.3 1075.4L1115.4 1073.1L1121.4 1070.6L1127.2 1067.9L1127.7 1067.7 M1178.2 1033.7L1184.5 1028.7L1190.7 1023.6L1196.7 1018.4L1202.7 1013.0L1208.5 1007.5L1214.1 1001.9L1214.8 1001.1 M1256.9 950.9L1261.6 945.2L1266.4 939.4L1271.2 933.6L1275.9 927.7L1280.5 921.8L1285.1 915.9L1286.3 914.3 M1321.8 864.1L1327.2 858.2L1332.9 852.6L1338.7 847.1L1344.6 841.7L1350.6 836.4L1356.6 831.2L1358.1 829.9 M1408.4 805.3L1414.8 806.3L1421.1 808.0L1427.2 810.3L1432.9 813.4L1437.9 817.4L1442.1 822.4L1443.6 824.4 M1456.9 849.0L1457.4 850.4L1458.0 851.8L1458.6 853.2L1459.1 854.6L1459.7 855.9L1460.2 857.3L1460.7 858.7L1461.1 859.7 M1482.2 910.1L1486.2 915.8L1490.3 921.5L1494.3 927.2L1498.3 933.0L1502.2 938.8L1506.2 944.6L1507.6 946.6 M1540.4 996.7L1545.9 1002.6L1551.6 1008.1L1557.5 1013.5L1563.5 1018.8L1569.6 1024.0L1575.8 1029.1L1576.9 1030.0 M1627.3 1066.0L1633.1 1068.9L1639.0 1071.7L1644.9 1074.4L1650.8 1077.0L1656.8 1079.5L1662.9 1081.9L1663.8 1082.3 M1714.3 1098.1L1720.1 1099.2L1726.1 1100.3L1732.0 1101.2L1737.9 1102.1L1743.9 1102.9L1749.8 1103.7L1750.8 1103.8 M1801.1 1108.7L1807.0 1109.1L1813.0 1109.5L1819.0 1109.9L1825.0 1110.3L1831.0 1110.7L1837.0 1111.2L1838.0 1111.2" fill="none" stroke="#ff0000" stroke-width="10" stroke-linecap="round" stroke-linejoin="round"/>
<path d="M241.6 959.1L241.6 959.5L241.6 960.0L241.7 960.5L241.7 961.0L241.7 961.5L241.7 962.0L241.7 962.5L241.7 963.0L241.7 963.5 M243.1 1011.0L243.1 1011.5L243.1 1012.0L243.2 1012.5L243.2 1013.0L243.2 1013.5L243.2 1014.0L243.2 1014.5L243.3 1015.0L243.3 1015.5 M254.0 1063.2L254.3 1063.7L254.5 1064.1L254.8 1064.5L255.0 1064.9L255.3 1065.4L255.6 1065.8L255.9 1066.2L256.2 1066.6L256.4 1067.0L256.7 1067.4L257.0 1067.8 M304.0 1074.8L304.5 1074.8L305.0 1074.8L305.5 1074.7L306.0 1074.7L306.5 1074.7L307.0 1074.7L307.5 1074.7L308.0 1074.6L308.5 1074.6 M356.0 1073.6L356.5 1073.6L357.0 1073.5L357.5 1073.5L358.0 1073.5L358.5 1073.5L359.0 1073.5L359.5 1073.5L360.0 1073.5L360.5 1073.5 M408.0 1073.0L408.5 1073.0L409.0 1073.0L409.5 1073.0L410.0 1073.0L410.5 1073.0L411.0 1073.0L411.5 1073.0L412.0 1073.0L412.5 1073.0 M460.0 1072.6L460.5 1072.6L461.0 1072.6L461.5 1072.6L462.0 1072.6L462.5 1072.6L463.0 1072.6L463.5 1072.6L464.0 1072.6L464.5 1072.6 M512.0 1072.4L512.5 1072.4L513.0 1072.4L513.5 1072.4L514.0 1072.4L514.5 1072.4L515.0 1072.4L515.5 1072.4L516.0 1072.4L516.5 1072.4 M564.0 1072.2L564.5 1072.2L565.0 1072.2L565.5 1072.2L566.0 1072.2L566.5 1072.2L567.0 1072.2L567.5 1072.1L568.0 1072.1L568.5 1072.1 M616.0 1071.9L616.5 1071.9L617.0 1071.9L617.5 1071.9L618.0 1071.9L618.5 1071.9L619.0 1071.9L619.5 1071.9L620.0 1071.9L620.5 1071.9 M668.0 1072.0L668.5 1072.0L669.0 1072.0L669.5 1072.0L670.0 1072.0L670.5 1072.0L671.0 1072.0L671.5 1072.0L672.0 1072.0L672.5 1072.0 M720.0 1072.2L720.5 1072.2L721.0 1072.2L721.5 1072.2L722.0 1072.2L722.5 1072.2L723.0 1072.2L723.5 1072.2L724.0 1072.2L724.5 1072.2 M772.0 1072.4L772.5 1072.4L773.0 1072.4L773.5 1072.4L774.0 1072.4L774.5 1072.4L775.0 1072.4L775.5 1072.4L776.0 1072.4L776.5 1072.4 M824.0 1072.6L824.5 1072.6L825.0 1072.6L825.5 1072.6L826.0 1072.6L826.5 1072.6L827.0 1072.6L827.5 1072.6L828.0 1072.6L828.5 1072.6 M876.0 1072.3L876.5 1072.3L877.0 1072.3L877.5 1072.3L878.0 1072.3L878.5 1072.3L879.0 1072.3L879.5 1072.3L880.0 1072.3L880.5 1072.3 M928.0 1071.5L928.5 1071.5L929.0 1071.4L929.5 1071.4L930.0 1071.4L930.5 1071.4L931.0 1071.4L931.5 1071.4L932.0 1071.4L932.5 1071.4 M979.9 1069.6L980.4 1069.6L980.9 1069.6L981.4 1069.6L981.9 1069.5L982.4 1069.5L982.9 1069.4L983.4 1069.4L983.9 1069.4L984.4 1069.3 M1032.1 1064.2L1032.6 1064.1L1033.1 1064.1L1033.6 1064.0L1034.1 1063.9L1034.6 1063.8L1035.1 1063.8L1035.6 1063.7L1036.1 1063.6L1036.6 1063.5 M1083.9 1046.8L1084.3 1046.6L1084.7 1046.3L1085.1 1046.0L1085.6 1045.8L1086.0 1045.5L1086.4 1045.3L1086.9 1045.0L1087.3 1044.8L1087.7 1044.5L1088.1 1044.2L1088.6 1044.0 M1135.9 1009.6L1136.7 1009.0L1137.4 1008.4L1138.2 1007.8L1139.0 1007.1L1139.8 1006.5L1140.5 1005.9 M1184.4 959.4L1185.1 958.6L1185.8 957.9L1186.5 957.1L1187.1 956.4L1187.8 955.7L1188.5 954.9L1188.8 954.6 M1229.1 907.4L1229.7 906.7L1230.3 905.9L1230.9 905.1L1231.5 904.3L1232.1 903.5L1232.7 902.7 M1264.3 855.2L1264.5 854.8L1264.8 854.4L1265.1 853.9L1265.3 853.5L1265.6 853.1L1265.8 852.6L1266.1 852.2L1266.3 851.8L1266.6 851.4L1266.9 850.9L1267.1 850.5 M1291.7 803.0L1292.0 802.6L1292.3 802.2L1292.5 801.8L1292.8 801.3L1293.1 800.9L1293.3 800.5L1293.6 800.1L1293.9 799.7L1294.2 799.3L1294.5 798.8 M1336.5 751.4L1337.2 750.7L1337.9 749.9L1338.6 749.2L1339.3 748.5L1339.9 747.7L1340.6 747.0L1341.0 746.6 M1387.6 715.5L1388.1 715.6L1388.6 715.7L1389.0 715.8L1389.5 715.9L1390.0 716.1L1390.5 716.2L1390.9 716.4L1391.4 716.6L1391.9 716.8L1392.3 717.0 M1429.8 759.8L1430.0 760.3L1430.3 760.7L1430.5 761.1L1430.7 761.6L1431.0 762.0L1431.2 762.4L1431.5 762.9L1431.7 763.3L1432.0 763.7L1432.2 764.2 M1456.4 811.9L1456.7 812.3L1456.9 812.8L1457.1 813.2L1457.3 813.7L1457.6 814.1L1457.8 814.6L1458.0 815.0L1458.2 815.4L1458.5 815.9L1458.7 816.3 M1482.1 863.9L1482.3 864.3L1482.5 864.8L1482.7 865.2L1482.9 865.7L1483.1 866.2L1483.2 866.6L1483.4 867.1L1483.6 867.6L1483.8 868.0 M1499.2 915.6L1499.4 916.1L1499.5 916.5L1499.7 917.0L1499.8 917.5L1500.0 918.0L1500.2 918.4L1500.3 918.9L1500.5 919.4L1500.6 919.9L1500.8 920.3 M1517.9 967.8L1518.1 968.3L1518.3 968.7L1518.5 969.2L1518.7 969.7L1518.9 970.1L1519.1 970.6L1519.3 971.0 M1543.0 1018.4L1543.3 1018.8L1543.5 1019.3L1543.8 1019.7L1544.0 1020.1L1544.3 1020.5L1544.6 1021.0L1544.8 1021.4L1545.1 1021.8L1545.3 1022.2L1545.6 1022.7 M1589.9 1057.9L1590.4 1058.0L1590.9 1058.1L1591.4 1058.2L1591.8 1058.3L1592.3 1058.5L1592.8 1058.6L1593.3 1058.7L1593.8 1058.8L1594.3 1058.9 M1641.6 1061.0L1642.1 1061.0L1642.6 1061.0L1643.1 1061.0L1643.6 1061.0L1644.1 1060.9L1644.6 1060.9L1645.1 1060.9L1645.6 1060.9L1646.1 1060.9 M1693.6 1059.0L1694.1 1059.1L1694.6 1059.1L1695.0 1059.1L1695.5 1059.1L1696.0 1059.1L1696.5 1059.2L1697.0 1059.2L1697.5 1059.2L1698.0 1059.2L1698.5 1059.3 M1745.8 1063.9L1746.3 1063.9L1746.8 1064.0L1747.3 1064.0L1747.8 1064.0L1748.3 1064.0L1748.8 1064.1L1749.3 1064.1L1749.8 1064.1L1750.3 1064.1 M1797.8 1064.2L1798.3 1064.2L1798.8 1064.2L1799.3 1064.2L1799.8 1064.2L1800.3 1064.2L1800.8 1064.3L1801.3 1064.3L1801.8 1064.3L1802.3 1064.3" fill="none" stroke="#ff0000" stroke-width="10" stroke-linecap="round" stroke-linejoin="round"/>
<path d="M241.8 959.0L242.5 966.5L243.1 973.9L243.7 981.4L244.4 988.9L245.1 996.3L245.9 1003.8 M249.7 1034.1L249.7 1034.6L249.8 1035.0L249.9 1035.5L250.0 1036.0L250.1 1036.5L250.1 1037.0L250.2 1037.5L250.3 1038.0L250.4 1038.5L250.5 1039.0 M259.5 1069.0L263.9 1075.7L269.8 1080.9L277.2 1083.7L285.1 1084.9L293.1 1084.6L301.0 1084.0L301.5 1083.9 M332.0 1083.3L332.5 1083.3L333.0 1083.3L333.5 1083.3L334.0 1083.3L334.5 1083.3L335.0 1083.3L335.5 1083.3L336.0 1083.3L336.5 1083.3L337.0 1083.3 M367.0 1083.0L374.0 1082.9L381.0 1082.9L388.0 1082.9L395.0 1082.8L402.0 1082.8L409.0 1082.8L411.5 1082.7 M442.0 1082.6L442.5 1082.6L443.0 1082.6L443.5 1082.6L444.0 1082.6L444.5 1082.6L445.0 1082.6L445.5 1082.6L446.0 1082.6L446.5 1082.6L447.0 1082.6 M477.0 1082.5L484.0 1082.5L491.0 1082.5L498.0 1082.4L505.0 1082.4L512.0 1082.4L519.0 1082.4L521.5 1082.4 M552.0 1082.2L552.5 1082.2L553.0 1082.2L553.5 1082.2L554.0 1082.2L554.5 1082.2L555.0 1082.2L555.5 1082.2L556.0 1082.2L556.5 1082.2L557.0 1082.2 M587.0 1082.1L594.0 1082.0L601.0 1082.0L608.0 1082.0L615.0 1081.9L622.0 1081.9L629.0 1081.8L631.5 1081.8 M662.0 1081.7L662.5 1081.7L663.0 1081.7L663.5 1081.7L664.0 1081.7L664.5 1081.7L665.0 1081.7L665.5 1081.7L666.0 1081.7L666.5 1081.7L667.0 1081.7 M697.0 1081.7L704.0 1081.7L711.0 1081.7L718.0 1081.7L725.0 1081.6L732.0 1081.6L739.0 1081.6L741.5 1081.6 M772.0 1081.5L772.5 1081.5L773.0 1081.5L773.5 1081.5L774.0 1081.5L774.5 1081.5L775.0 1081.5L775.5 1081.5L776.0 1081.5L776.5 1081.5L777.0 1081.5 M807.0 1081.4L814.0 1081.3L821.0 1081.3L828.0 1081.2L835.0 1081.2L842.0 1081.1L849.0 1081.0L851.5 1081.0 M882.0 1080.5L882.5 1080.5L883.0 1080.4L883.5 1080.4L884.0 1080.4L884.5 1080.4L885.0 1080.4L885.5 1080.4L886.0 1080.4L886.5 1080.4L887.0 1080.4 M917.0 1079.5L924.0 1079.4L931.0 1079.2L938.0 1079.0L945.0 1078.8L952.0 1078.5L959.0 1078.2L961.5 1078.1 M991.8 1074.7L992.3 1074.6L992.8 1074.5L993.3 1074.4L993.8 1074.3L994.2 1074.2L994.7 1074.1L995.2 1074.0L995.7 1074.0L996.2 1073.9L996.7 1073.8 M1027.0 1065.3L1034.9 1062.0L1042.5 1058.3L1049.9 1054.1L1057.0 1049.6L1064.1 1044.8L1071.0 1039.8L1071.8 1039.2 M1101.7 1014.3L1102.5 1013.6L1103.3 1013.0L1104.0 1012.3L1104.8 1011.7L1105.5 1011.0L1106.3 1010.3L1107.0 1009.7 M1137.1 984.8L1144.6 979.0L1152.0 973.1L1159.3 967.0L1166.4 960.7L1173.2 954.1L1179.8 947.2L1181.5 945.4 M1208.6 915.3L1209.3 914.6L1209.9 913.8L1210.6 913.1L1211.3 912.3L1211.9 911.6L1212.6 910.8L1212.9 910.4 M1237.6 880.2L1242.4 873.3L1247.1 866.1L1251.6 858.9L1256.0 851.7L1260.4 844.4L1264.9 837.2L1266.0 835.5 M1286.1 805.6L1286.6 804.8L1287.2 804.0L1287.8 803.2L1288.4 802.4L1288.9 801.5L1289.5 800.7L1289.8 800.3 M1311.5 770.4L1318.0 763.5L1324.9 756.9L1332.0 750.6L1339.4 744.6L1347.1 739.1L1354.9 733.7L1355.7 733.2 M1378.6 719.0L1379.1 718.8L1379.5 718.7L1380.0 718.5 M1400.7 741.6L1400.9 742.1L1401.0 742.5L1401.2 743.0L1401.4 743.5L1401.5 744.0L1401.7 744.4L1401.8 744.9L1402.0 745.4L1402.1 745.9L1402.3 746.3 M1412.8 776.5L1417.4 784.2L1422.5 791.7L1427.8 798.9L1433.2 806.1L1438.7 813.3L1444.0 820.5L1444.5 821.3 M1465.0 851.6L1465.5 852.4L1466.1 853.2L1466.7 854.1L1467.2 854.9L1467.8 855.7L1468.3 856.5 M1476.0 867.7L1478.8 871.8L1481.7 875.9L1484.6 880.0L1487.4 884.1L1490.2 888.2L1493.0 892.4L1493.6 893.2 M1512.2 923.4L1512.5 923.8L1512.7 924.3L1513.0 924.7L1513.2 925.1L1513.5 925.6L1513.7 926.0L1514.0 926.4L1514.2 926.9L1514.5 927.3L1514.7 927.7L1515.0 928.1 M1532.8 958.3L1537.6 965.9L1542.5 973.5L1547.4 981.0L1552.5 988.4L1557.8 995.7L1563.3 1002.8L1563.7 1003.2 M1589.4 1033.1L1590.0 1033.9L1590.7 1034.6L1591.4 1035.4L1592.0 1036.1L1592.7 1036.9L1593.4 1037.6L1594.1 1038.3 M1624.2 1059.5L1631.2 1063.4L1638.4 1066.9L1645.7 1070.2L1653.0 1073.4L1660.3 1076.7L1667.6 1080.0L1669.0 1080.6 M1699.0 1091.7L1699.4 1091.8L1699.9 1092.0L1700.4 1092.1L1700.9 1092.2L1701.4 1092.3L1701.9 1092.5L1702.3 1092.6L1702.8 1092.7L1703.3 1092.8L1703.8 1093.0L1704.3 1093.1 M1734.3 1098.2L1741.3 1099.0L1748.2 1099.8L1755.2 1100.5L1762.2 1101.2L1769.1 1101.8L1776.1 1102.4L1778.6 1102.6 M1809.1 1104.2L1809.6 1104.2L1810.1 1104.2L1810.6 1104.2L1811.1 1104.3L1811.6 1104.3L1812.1 1104.3L1812.6 1104.3L1813.1 1104.4L1813.6 1104.4L1814.1 1104.4 M1844.4 1105.8L1844.8 1105.8L1845.2 1105.8L1845.6 1105.9L1846.0 1105.9L1846.3 1105.9L1846.5 1105.9" fill="none" stroke="#ff0000" stroke-width="10" stroke-linecap="round" stroke-linejoin="round"/>
<path d="M243.8 979.4L244.3 984.4L244.8 989.3L245.3 994.3L245.9 999.3L246.5 1004.2L247.1 1009.2L247.4 1011.7 M252.3 1041.3L252.4 1041.8L252.6 1042.2L252.7 1042.7L252.8 1043.2L252.9 1043.7L253.0 1044.2L253.1 1044.7L253.2 1045.2L253.4 1045.6L253.5 1046.1L253.6 1046.6 M266.8 1076.6L267.4 1077.3L268.1 1078.0L268.8 1078.7L269.5 1079.4L270.3 1080.0L271.1 1080.6L271.9 1081.1 M301.5 1082.0L306.5 1081.8L311.5 1081.7L316.5 1081.6L321.5 1081.5L326.5 1081.5L331.5 1081.4L334.0 1081.4 M363.5 1081.1L364.0 1081.0L364.5 1081.0L365.0 1081.0L365.5 1081.0L366.0 1081.0L366.5 1081.0L367.0 1081.0L367.5 1081.0L368.0 1081.0L368.5 1081.0L369.0 1081.0 M398.5 1080.8L399.0 1080.8L399.5 1080.8L400.0 1080.8L400.5 1080.8L401.0 1080.8L401.5 1080.8L402.0 1080.8L402.5 1080.8L403.0 1080.8L403.5 1080.8L404.0 1080.8 M434.0 1080.6L439.0 1080.6L444.0 1080.6L449.0 1080.5L454.0 1080.5L459.0 1080.5L464.0 1080.5L466.0 1080.5 M495.5 1080.3L496.0 1080.3L496.5 1080.3L497.0 1080.3L497.5 1080.3L498.0 1080.3L498.5 1080.3L499.0 1080.3L499.5 1080.3L500.0 1080.3L500.5 1080.3L501.0 1080.3 M531.0 1080.2L531.5 1080.2L532.0 1080.2L532.5 1080.2L533.0 1080.2L533.5 1080.2L534.0 1080.2L534.5 1080.2L535.0 1080.2L535.5 1080.2L536.0 1080.2L536.5 1080.2 M566.0 1080.1L571.0 1080.1L576.0 1080.1L581.0 1080.1L586.0 1080.0L591.0 1080.0L596.0 1080.0L598.0 1080.0 M628.0 1080.0L628.5 1080.0L629.0 1080.0L629.5 1080.0L630.0 1080.0L630.5 1080.0L631.0 1080.0L631.5 1080.0L632.0 1080.0L632.5 1080.0L633.0 1080.0L633.5 1080.0 M663.0 1080.1L663.5 1080.1L664.0 1080.1L664.5 1080.1L665.0 1080.1L665.5 1080.1L666.0 1080.1L666.5 1080.1L667.0 1080.1L667.5 1080.1L668.0 1080.1L668.5 1080.2 M698.5 1080.4L703.5 1080.4L708.5 1080.4L713.5 1080.5L718.5 1080.5L723.5 1080.6L728.5 1080.6L730.5 1080.6 M760.0 1080.8L760.5 1080.8L761.0 1080.8L761.5 1080.8L762.0 1080.8L762.5 1080.9L763.0 1080.9L763.5 1080.9L764.0 1080.9L764.5 1080.9L765.0 1080.9L765.5 1080.9 M795.5 1081.0L796.0 1081.0L796.5 1081.0L797.0 1081.0L797.5 1081.0L798.0 1081.0L798.5 1081.0L799.0 1081.0L799.5 1081.0L800.0 1081.0L800.5 1081.0L801.0 1081.0 M830.5 1081.1L835.5 1081.0L840.5 1081.0L845.5 1081.0L850.5 1080.9L855.5 1080.9L860.5 1080.9L862.5 1080.8 M892.5 1080.2L893.0 1080.2L893.5 1080.2L893.9 1080.2L894.4 1080.2L894.9 1080.2L895.4 1080.1L895.9 1080.1L896.4 1080.1L896.9 1080.1L897.4 1080.1L897.9 1080.1 M927.4 1079.0L927.9 1079.0L928.4 1079.0L928.9 1078.9L929.4 1078.9L929.9 1078.9L930.4 1078.9L930.9 1078.9L931.4 1078.8L931.9 1078.8L932.4 1078.8L932.9 1078.8 M962.9 1077.1L967.9 1076.8L972.8 1076.3L977.8 1075.9L982.8 1075.3L987.8 1074.7L992.7 1074.1L994.7 1073.8 M1024.6 1068.1L1025.1 1068.0L1025.6 1067.8L1026.1 1067.7L1026.6 1067.6L1027.1 1067.5L1027.6 1067.4L1028.0 1067.2L1028.5 1067.1L1029.0 1067.0L1029.5 1066.8L1030.0 1066.7 M1059.9 1055.5L1060.8 1055.1L1061.7 1054.6L1062.6 1054.2L1063.5 1053.7L1064.3 1053.3L1065.2 1052.8 M1094.7 1031.5L1099.6 1026.5L1104.3 1021.3L1109.0 1016.1L1113.6 1010.9L1118.1 1005.5L1122.5 1000.0L1123.1 999.3 M1143.3 969.4L1143.8 968.6L1144.3 967.7L1144.8 966.9L1145.3 966.0L1145.8 965.1L1146.3 964.3L1146.6 963.8 M1162.6 934.4L1163.0 933.5L1163.5 932.6L1164.0 931.8L1164.4 930.9L1164.9 930.0L1165.4 929.1L1165.6 928.7 M1182.4 899.1L1185.2 893.8L1187.9 888.5L1190.6 883.1L1193.3 877.7L1195.9 872.3L1198.6 866.9 M1213.0 837.3L1213.4 836.4L1213.9 835.5L1214.3 834.6L1214.7 833.6L1215.1 832.7L1215.5 831.8 M1228.3 801.9L1228.7 801.0L1229.1 800.1L1229.5 799.2L1229.9 798.3L1230.3 797.4L1230.7 796.4 M1244.1 766.8L1246.3 761.8L1248.5 756.7L1250.7 751.7L1252.8 746.6L1255.0 741.6L1257.1 736.5L1257.9 734.7 M1269.8 705.0L1270.2 704.0L1270.6 703.1L1271.0 702.2L1271.4 701.3L1271.8 700.4L1272.3 699.5 M1287.8 669.8L1288.3 669.0L1288.8 668.1L1289.3 667.2L1289.8 666.4L1290.3 665.5L1290.8 664.6L1291.0 664.2 M1309.1 635.0L1313.9 630.5L1319.0 626.6L1324.8 623.8L1331.1 623.7L1336.8 626.5L1341.7 630.8 M1359.2 660.3L1359.6 661.2L1360.1 662.1L1360.5 663.0L1360.9 663.9L1361.3 664.9L1361.7 665.8 M1373.4 695.5L1373.8 696.5L1374.2 697.4L1374.5 698.3L1374.9 699.3L1375.2 700.2L1375.6 701.1 M1386.5 730.7L1388.2 735.9L1389.8 741.2L1391.4 746.4L1392.9 751.7L1394.5 757.0L1396.1 762.3L1396.2 762.7 M1405.4 792.3L1405.8 793.3L1406.1 794.2L1406.4 795.2L1406.7 796.1L1407.0 797.1L1407.3 798.0 M1417.6 827.8L1417.8 828.3L1417.9 828.8L1418.1 829.2L1418.3 829.7L1418.4 830.2L1418.6 830.6L1418.8 831.1L1418.9 831.6L1419.1 832.1L1419.3 832.5L1419.5 833.0 M1430.7 863.0L1432.5 868.2L1434.2 873.4L1435.9 878.6L1437.7 883.8L1439.4 889.0L1441.3 894.2L1441.7 895.1 M1454.3 924.5L1454.5 925.0L1454.7 925.4L1454.9 925.9L1455.2 926.3L1455.4 926.8 M1469.6 956.6L1470.1 957.4L1470.5 958.3L1471.0 959.2L1471.5 960.1L1472.0 960.9L1472.5 961.8L1472.7 962.3 M1491.4 991.8L1495.7 997.4L1500.1 1002.8L1504.7 1008.0L1509.5 1013.1L1514.5 1018.1L1519.6 1022.9L1520.3 1023.5 M1549.7 1044.2L1550.6 1044.7L1551.5 1045.2L1552.3 1045.6L1553.2 1046.1L1554.1 1046.6L1555.0 1047.0L1555.5 1047.2 M1585.3 1058.8L1585.7 1058.9L1586.2 1059.1L1586.7 1059.2L1587.2 1059.4L1587.6 1059.6L1588.1 1059.7L1588.6 1059.9L1589.1 1060.0L1589.6 1060.2L1590.0 1060.3L1590.5 1060.5 M1620.0 1068.0L1625.4 1069.4L1630.7 1070.8L1636.0 1072.1L1641.4 1073.5L1646.7 1074.8L1652.0 1076.1L1652.5 1076.3 M1682.3 1082.8L1682.8 1082.9L1683.3 1083.0L1683.8 1083.1L1684.3 1083.2L1684.7 1083.3L1685.2 1083.4L1685.7 1083.5L1686.2 1083.6L1686.7 1083.7L1687.2 1083.8L1687.7 1083.9 M1717.4 1088.1L1717.9 1088.1L1718.4 1088.2L1718.9 1088.2L1719.4 1088.2L1719.9 1088.3L1720.4 1088.3L1720.9 1088.4L1721.4 1088.4L1721.9 1088.5L1722.4 1088.5L1722.9 1088.6 M1752.2 1091.4L1757.2 1092.0L1762.2 1092.6L1767.1 1093.2L1772.1 1093.9L1777.0 1094.5L1782.0 1095.2L1784.5 1095.5 M1814.3 1098.7L1814.8 1098.8L1815.3 1098.8L1815.8 1098.8L1816.3 1098.9L1816.8 1098.9L1817.3 1099.0L1817.8 1099.0L1818.3 1099.0L1818.8 1099.1L1819.3 1099.1L1819.8 1099.2" fill="none" stroke="#ff0000" stroke-width="10" stroke-linecap="round" stroke-linejoin="round"/>
<line x1="239.5" y1="33" x2="239.5" y2="1346" stroke="#000" stroke-width="5"/>
<line x1="237" y1="1343.5" x2="1848.5" y2="1343.5" stroke="#000" stroke-width="5"/>
<line x1="215" y1="1343.1" x2="239" y2="1343.1" stroke="#000" stroke-width="5.5" stroke-linecap="round"/>
<line x1="215" y1="940.8" x2="239" y2="940.8" stroke="#000" stroke-width="5.5" stroke-linecap="round"/>
<line x1="215" y1="538.5" x2="239" y2="538.5" stroke="#000" stroke-width="5.5" stroke-linecap="round"/>
<line x1="215" y1="136.2" x2="239" y2="136.2" stroke="#000" stroke-width="5.5" stroke-linecap="round"/>
<line x1="227" y1="1142.0" x2="239" y2="1142.0" stroke="#000" stroke-width="5.5" stroke-linecap="round"/>
<line x1="227" y1="739.6" x2="239" y2="739.6" stroke="#000" stroke-width="5.5" stroke-linecap="round"/>
<line x1="227" y1="337.3" x2="239" y2="337.3" stroke="#000" stroke-width="5.5" stroke-linecap="round"/>
<line x1="239.1" y1="1344" x2="239.1" y2="1355" stroke="#000" stroke-width="5" stroke-linecap="round"/>
<line x1="312.2" y1="1344" x2="312.2" y2="1355" stroke="#000" stroke-width="5" stroke-linecap="round"/>
<line x1="385.3" y1="1344" x2="385.3" y2="1367" stroke="#000" stroke-width="5" stroke-linecap="round"/>
<line x1="458.4" y1="1344" x2="458.4" y2="1355" stroke="#000" stroke-width="5" stroke-linecap="round"/>
<line x1="531.5" y1="1344" x2="531.5" y2="1355" stroke="#000" stroke-width="5" stroke-linecap="round"/>
<line x1="604.5" y1="1344" x2="604.5" y2="1355" stroke="#000" stroke-width="5" stroke-linecap="round"/>
<line x1="677.6" y1="1344" x2="677.6" y2="1355" stroke="#000" stroke-width="5" stroke-linecap="round"/>
<line x1="750.7" y1="1344" x2="750.7" y2="1367" stroke="#000" stroke-width="5" stroke-linecap="round"/>
<line x1="823.8" y1="1344" x2="823.8" y2="1355" stroke="#000" stroke-width="5" stroke-linecap="round"/>
<line x1="896.9" y1="1344" x2="896.9" y2="1355" stroke="#000" stroke-width="5" stroke-linecap="round"/>
<line x1="969.9" y1="1344" x2="969.9" y2="1355" stroke="#000" stroke-width="5" stroke-linecap="round"/>
<line x1="1043.0" y1="1344" x2="1043.0" y2="1355" stroke="#000" stroke-width="5" stroke-linecap="round"/>
<line x1="1116.1" y1="1344" x2="1116.1" y2="1367" stroke="#000" stroke-width="5" stroke-linecap="round"/>
<line x1="1189.2" y1="1344" x2="1189.2" y2="1355" stroke="#000" stroke-width="5" stroke-linecap="round"/>
<line x1="1262.3" y1="1344" x2="1262.3" y2="1355" stroke="#000" stroke-width="5" stroke-linecap="round"/>
<line x1="1335.3" y1="1344" x2="1335.3" y2="1355" stroke="#000" stroke-width="5" stroke-linecap="round"/>
<line x1="1408.4" y1="1344" x2="1408.4" y2="1355" stroke="#000" stroke-width="5" stroke-linecap="round"/>
<line x1="1481.5" y1="1344" x2="1481.5" y2="1367" stroke="#000" stroke-width="5" stroke-linecap="round"/>
<line x1="1554.6" y1="1344" x2="1554.6" y2="1355" stroke="#000" stroke-width="5" stroke-linecap="round"/>
<line x1="1627.7" y1="1344" x2="1627.7" y2="1355" stroke="#000" stroke-width="5" stroke-linecap="round"/>
<line x1="1700.7" y1="1344" x2="1700.7" y2="1355" stroke="#000" stroke-width="5" stroke-linecap="round"/>
<line x1="1773.8" y1="1344" x2="1773.8" y2="1355" stroke="#000" stroke-width="5" stroke-linecap="round"/>
<line x1="1846.9" y1="1344" x2="1846.9" y2="1367" stroke="#000" stroke-width="5" stroke-linecap="round"/>
<text transform="translate(155.96,158.00) scale(0.9784,1)" font-size="78" fill="#000" style="font-family:'Liberation Sans',Arial,sans-serif;font-weight:bold;font-kerning:none">2</text>
<clipPath id="c1_1" clipPathUnits="userSpaceOnUse"><path d="M-50 -93.6H93.4V31.2H-50ZM4.9 -10.0H20.4V1.6H4.9ZM31.8 -10.0H46.3V1.6H31.8Z" clip-rule="evenodd"/></clipPath><text transform="translate(152.20,559.00) scale(1.1500,1)" font-size="78" fill="#000" style="font-family:'Liberation Sans',Arial,sans-serif;font-weight:bold;font-kerning:none" clip-path="url(#c1_1)"><tspan dx="2.57">1</tspan></text>
<text transform="translate(155.92,961.30) scale(0.9919,1)" font-size="78" fill="#000" style="font-family:'Liberation Sans',Arial,sans-serif;font-weight:bold;font-kerning:none">0</text>
<clipPath id="c1_2" clipPathUnits="userSpaceOnUse"><path d="M-50 -93.6H119.3V31.2H-50ZM30.9 -10.0H46.3V1.6H30.9ZM57.8 -10.0H72.2V1.6H57.8Z" clip-rule="evenodd"/></clipPath><text transform="translate(131.92,1364.00) scale(0.9610,1)" font-size="78" fill="#000" style="font-family:'Liberation Sans',Arial,sans-serif;font-weight:bold;font-kerning:none" clip-path="url(#c1_2)">-<tspan dx="2.57">1</tspan></text>
<text transform="translate(344.10,1444.00) scale(0.9679,1)" font-size="78" fill="#000" style="font-family:'Liberation Sans',Arial,sans-serif;font-weight:bold;font-kerning:none">50</text>
<clipPath id="c1_3" clipPathUnits="userSpaceOnUse"><path d="M-50 -93.6H180.1V31.2H-50ZM4.9 -10.0H20.4V1.6H4.9ZM31.8 -10.0H46.3V1.6H31.8Z" clip-rule="evenodd"/></clipPath><text transform="translate(687.95,1444.00) scale(0.9610,1)" font-size="78" fill="#000" style="font-family:'Liberation Sans',Arial,sans-serif;font-weight:bold;font-kerning:none" clip-path="url(#c1_3)"><tspan dx="2.57">1</tspan><tspan dx="-2.57">0</tspan>0</text>
<clipPath id="c1_4" clipPathUnits="userSpaceOnUse"><path d="M-50 -93.6H180.1V31.2H-50ZM4.9 -10.0H20.4V1.6H4.9ZM31.8 -10.0H46.3V1.6H31.8Z" clip-rule="evenodd"/></clipPath><text transform="translate(1053.95,1444.00) scale(0.9610,1)" font-size="78" fill="#000" style="font-family:'Liberation Sans',Arial,sans-serif;font-weight:bold;font-kerning:none" clip-path="url(#c1_4)"><tspan dx="2.57">1</tspan><tspan dx="-2.57">5</tspan>0</text>
<text transform="translate(1418.20,1444.00) scale(0.9677,1)" font-size="78" fill="#000" style="font-family:'Liberation Sans',Arial,sans-serif;font-weight:bold;font-kerning:none">200</text>
<text transform="translate(1784.33,1444.00) scale(0.9581,1)" font-size="78" fill="#000" style="font-family:'Liberation Sans',Arial,sans-serif;font-weight:bold;font-kerning:none">250</text>
<text transform="translate(740.73,1588.00) scale(0.9747,1)" font-size="78" fill="#000" style="font-family:'Liberation Sans',Arial,sans-serif;font-weight:bold;font-kerning:none">Temperature</text>
<text transform="translate(1215.41,1588.00) scale(0.8727,1)" font-size="78" fill="#000" style="font-family:'Liberation Sans',Arial,sans-serif;font-weight:bold;font-kerning:none">(</text>
<text transform="translate(1240.01,1545.50) scale(0.9958,1)" font-size="46" fill="#000" style="font-family:'Liberation Sans',Arial,sans-serif;font-weight:bold;font-kerning:none">o</text>
<text transform="translate(1268.02,1588.00) scale(0.9608,1)" font-size="78" fill="#000" style="font-family:'Liberation Sans',Arial,sans-serif;font-weight:bold;font-kerning:none">C</text>
<text transform="translate(1324.90,1588.00) scale(0.8636,1)" font-size="78" fill="#000" style="font-family:'Liberation Sans',Arial,sans-serif;font-weight:bold;font-kerning:none">)</text>
<text transform="translate(80.10,810.00) rotate(-90) scale(0.9638,1)" font-size="78" style="font-family:'Liberation Sans',Arial,sans-serif;font-weight:bold">W/g</text>
<clipPath id="c1_5" clipPathUnits="userSpaceOnUse"><path d="M-50 -82.8H214.9V27.6H-50ZM4.3 -8.8H18.0V1.4H4.3ZM28.2 -8.8H40.9V1.4H28.2Z" clip-rule="evenodd"/></clipPath><text transform="translate(1912.72,123.30) scale(0.9610,1)" font-size="69" fill="#000" style="font-family:'Liberation Sans',Arial,sans-serif;font-weight:bold;font-kerning:none" clip-path="url(#c1_5)"><tspan dx="2.28">1</tspan><tspan dx="-2.28">0</tspan>0B</text>
<text transform="translate(2086.77,123.30) scale(0.9610,1)" font-size="69" fill="#000" style="font-family:'Liberation Sans',Arial,sans-serif;font-weight:bold;font-kerning:none">/</text>
<clipPath id="c1_6" clipPathUnits="userSpaceOnUse"><path d="M-50 -82.8H199.5V27.6H-50ZM4.3 -8.8H18.0V1.4H4.3ZM28.2 -8.8H40.9V1.4H28.2Z" clip-rule="evenodd"/></clipPath><text transform="translate(2120.51,123.30) scale(0.9610,1)" font-size="69" fill="#000" style="font-family:'Liberation Sans',Arial,sans-serif;font-weight:bold;font-kerning:none" clip-path="url(#c1_6)"><tspan dx="2.28">1</tspan><tspan dx="-2.28">p</tspan>hr</text>
<clipPath id="c1_7" clipPathUnits="userSpaceOnUse"><path d="M-50 -82.8H165.0V27.6H-50ZM4.3 -8.8H18.0V1.4H4.3ZM28.2 -8.8H40.9V1.4H28.2Z" clip-rule="evenodd"/></clipPath><text transform="translate(2277.29,123.30) scale(0.9610,1)" font-size="69" fill="#000" style="font-family:'Liberation Sans',Arial,sans-serif;font-weight:bold;font-kerning:none" clip-path="url(#c1_7)"><tspan dx="2.28">1</tspan><tspan dx="-2.28">M</tspan>I</text>
<clipPath id="c1_8" clipPathUnits="userSpaceOnUse"><path d="M-50 -82.8H214.9V27.6H-50ZM4.3 -8.8H18.0V1.4H4.3ZM28.2 -8.8H40.9V1.4H28.2Z" clip-rule="evenodd"/></clipPath><text transform="translate(1912.72,204.20) scale(0.9610,1)" font-size="69" fill="#000" style="font-family:'Liberation Sans',Arial,sans-serif;font-weight:bold;font-kerning:none" clip-path="url(#c1_8)"><tspan dx="2.28">1</tspan><tspan dx="-2.28">0</tspan>0B</text>
<text transform="translate(2086.77,204.20) scale(0.9610,1)" font-size="69" fill="#000" style="font-family:'Liberation Sans',Arial,sans-serif;font-weight:bold;font-kerning:none">/</text>
<text transform="translate(2120.51,204.20) scale(0.9610,1)" font-size="69" fill="#000" style="font-family:'Liberation Sans',Arial,sans-serif;font-weight:bold;font-kerning:none">2phr</text>
<clipPath id="c1_9" clipPathUnits="userSpaceOnUse"><path d="M-50 -82.8H165.0V27.6H-50ZM4.3 -8.8H18.0V1.4H4.3ZM28.2 -8.8H40.9V1.4H28.2Z" clip-rule="evenodd"/></clipPath><text transform="translate(2277.29,204.20) scale(0.9610,1)" font-size="69" fill="#000" style="font-family:'Liberation Sans',Arial,sans-serif;font-weight:bold;font-kerning:none" clip-path="url(#c1_9)"><tspan dx="2.28">1</tspan><tspan dx="-2.28">M</tspan>I</text>
<clipPath id="c1_10" clipPathUnits="userSpaceOnUse"><path d="M-50 -82.8H214.9V27.6H-50ZM4.3 -8.8H18.0V1.4H4.3ZM28.2 -8.8H40.9V1.4H28.2Z" clip-rule="evenodd"/></clipPath><text transform="translate(1912.72,284.50) scale(0.9610,1)" font-size="69" fill="#000" style="font-family:'Liberation Sans',Arial,sans-serif;font-weight:bold;font-kerning:none" clip-path="url(#c1_10)"><tspan dx="2.28">1</tspan><tspan dx="-2.28">0</tspan>0B</text>
<text transform="translate(2086.77,284.50) scale(0.9610,1)" font-size="69" fill="#000" style="font-family:'Liberation Sans',Arial,sans-serif;font-weight:bold;font-kerning:none">/</text>
<text transform="translate(2120.51,284.50) scale(0.9610,1)" font-size="69" fill="#000" style="font-family:'Liberation Sans',Arial,sans-serif;font-weight:bold;font-kerning:none">3phr</text>
<clipPath id="c1_11" clipPathUnits="userSpaceOnUse"><path d="M-50 -82.8H165.0V27.6H-50ZM4.3 -8.8H18.0V1.4H4.3ZM28.2 -8.8H40.9V1.4H28.2Z" clip-rule="evenodd"/></clipPath><text transform="translate(2277.29,284.50) scale(0.9610,1)" font-size="69" fill="#000" style="font-family:'Liberation Sans',Arial,sans-serif;font-weight:bold;font-kerning:none" clip-path="url(#c1_11)"><tspan dx="2.28">1</tspan><tspan dx="-2.28">M</tspan>I</text>
<clipPath id="c1_12" clipPathUnits="userSpaceOnUse"><path d="M-50 -82.8H214.9V27.6H-50ZM4.3 -8.8H18.0V1.4H4.3ZM28.2 -8.8H40.9V1.4H28.2Z" clip-rule="evenodd"/></clipPath><text transform="translate(1912.72,365.10) scale(0.9610,1)" font-size="69" fill="#000" style="font-family:'Liberation Sans',Arial,sans-serif;font-weight:bold;font-kerning:none" clip-path="url(#c1_12)"><tspan dx="2.28">1</tspan><tspan dx="-2.28">0</tspan>0B</text>
<text transform="translate(2086.77,365.10) scale(0.9610,1)" font-size="69" fill="#000" style="font-family:'Liberation Sans',Arial,sans-serif;font-weight:bold;font-kerning:none">/</text>
<text transform="translate(2120.51,365.10) scale(0.9610,1)" font-size="69" fill="#000" style="font-family:'Liberation Sans',Arial,sans-serif;font-weight:bold;font-kerning:none">4phr</text>
<clipPath id="c1_13" clipPathUnits="userSpaceOnUse"><path d="M-50 -82.8H165.0V27.6H-50ZM4.3 -8.8H18.0V1.4H4.3ZM28.2 -8.8H40.9V1.4H28.2Z" clip-rule="evenodd"/></clipPath><text transform="translate(2277.29,365.10) scale(0.9610,1)" font-size="69" fill="#000" style="font-family:'Liberation Sans',Arial,sans-serif;font-weight:bold;font-kerning:none" clip-path="url(#c1_13)"><tspan dx="2.28">1</tspan><tspan dx="-2.28">M</tspan>I</text>
<clipPath id="c1_14" clipPathUnits="userSpaceOnUse"><path d="M-50 -82.8H214.9V27.6H-50ZM4.3 -8.8H18.0V1.4H4.3ZM28.2 -8.8H40.9V1.4H28.2Z" clip-rule="evenodd"/></clipPath><text transform="translate(1912.72,446.00) scale(0.9610,1)" font-size="69" fill="#000" style="font-family:'Liberation Sans',Arial,sans-serif;font-weight:bold;font-kerning:none" clip-path="url(#c1_14)"><tspan dx="2.28">1</tspan><tspan dx="-2.28">0</tspan>0B</text>
<text transform="translate(2086.77,446.00) scale(0.9610,1)" font-size="69" fill="#000" style="font-family:'Liberation Sans',Arial,sans-serif;font-weight:bold;font-kerning:none">/</text>
<text transform="translate(2120.51,446.00) scale(0.9610,1)" font-size="69" fill="#000" style="font-family:'Liberation Sans',Arial,sans-serif;font-weight:bold;font-kerning:none">5phr</text>
<clipPath id="c1_15" clipPathUnits="userSpaceOnUse"><path d="M-50 -82.8H165.0V27.6H-50ZM4.3 -8.8H18.0V1.4H4.3ZM28.2 -8.8H40.9V1.4H28.2Z" clip-rule="evenodd"/></clipPath><text transform="translate(2277.29,446.00) scale(0.9610,1)" font-size="69" fill="#000" style="font-family:'Liberation Sans',Arial,sans-serif;font-weight:bold;font-kerning:none" clip-path="url(#c1_15)"><tspan dx="2.28">1</tspan><tspan dx="-2.28">M</tspan>I</text>
<clipPath id="c1_16" clipPathUnits="userSpaceOnUse"><path d="M-50 -82.8H214.9V27.6H-50ZM4.3 -8.8H18.0V1.4H4.3ZM28.2 -8.8H40.9V1.4H28.2Z" clip-rule="evenodd"/></clipPath><text transform="translate(1912.72,606.40) scale(0.9610,1)" font-size="69" fill="#000" style="font-family:'Liberation Sans',Arial,sans-serif;font-weight:bold;font-kerning:none" clip-path="url(#c1_16)"><tspan dx="2.28">1</tspan><tspan dx="-2.28">0</tspan>0D</text>
<text transform="translate(2086.77,606.40) scale(0.9610,1)" font-size="69" fill="#000" style="font-family:'Liberation Sans',Arial,sans-serif;font-weight:bold;font-kerning:none">/</text>
<clipPath id="c1_17" clipPathUnits="userSpaceOnUse"><path d="M-50 -82.8H199.5V27.6H-50ZM4.3 -8.8H18.0V1.4H4.3ZM28.2 -8.8H40.9V1.4H28.2Z" clip-rule="evenodd"/></clipPath><text transform="translate(2120.51,606.40) scale(0.9610,1)" font-size="69" fill="#000" style="font-family:'Liberation Sans',Arial,sans-serif;font-weight:bold;font-kerning:none" clip-path="url(#c1_17)"><tspan dx="2.28">1</tspan><tspan dx="-2.28">p</tspan>hr</text>
<clipPath id="c1_18" clipPathUnits="userSpaceOnUse"><path d="M-50 -82.8H165.0V27.6H-50ZM4.3 -8.8H18.0V1.4H4.3ZM28.2 -8.8H40.9V1.4H28.2Z" clip-rule="evenodd"/></clipPath><text transform="translate(2277.29,606.40) scale(0.9610,1)" font-size="69" fill="#000" style="font-family:'Liberation Sans',Arial,sans-serif;font-weight:bold;font-kerning:none" clip-path="url(#c1_18)"><tspan dx="2.28">1</tspan><tspan dx="-2.28">M</tspan>I</text>
<clipPath id="c1_19" clipPathUnits="userSpaceOnUse"><path d="M-50 -82.8H214.9V27.6H-50ZM4.3 -8.8H18.0V1.4H4.3ZM28.2 -8.8H40.9V1.4H28.2Z" clip-rule="evenodd"/></clipPath><text transform="translate(1912.72,687.60) scale(0.9610,1)" font-size="69" fill="#000" style="font-family:'Liberation Sans',Arial,sans-serif;font-weight:bold;font-kerning:none" clip-path="url(#c1_19)"><tspan dx="2.28">1</tspan><tspan dx="-2.28">0</tspan>0D</text>
<text transform="translate(2086.77,687.60) scale(0.9610,1)" font-size="69" fill="#000" style="font-family:'Liberation Sans',Arial,sans-serif;font-weight:bold;font-kerning:none">/</text>
<text transform="translate(2120.51,687.60) scale(0.9610,1)" font-size="69" fill="#000" style="font-family:'Liberation Sans',Arial,sans-serif;font-weight:bold;font-kerning:none">2phr</text>
<clipPath id="c1_20" clipPathUnits="userSpaceOnUse"><path d="M-50 -82.8H165.0V27.6H-50ZM4.3 -8.8H18.0V1.4H4.3ZM28.2 -8.8H40.9V1.4H28.2Z" clip-rule="evenodd"/></clipPath><text transform="translate(2277.29,687.60) scale(0.9610,1)" font-size="69" fill="#000" style="font-family:'Liberation Sans',Arial,sans-serif;font-weight:bold;font-kerning:none" clip-path="url(#c1_20)"><tspan dx="2.28">1</tspan><tspan dx="-2.28">M</tspan>I</text>
<clipPath id="c1_21" clipPathUnits="userSpaceOnUse"><path d="M-50 -82.8H214.9V27.6H-50ZM4.3 -8.8H18.0V1.4H4.3ZM28.2 -8.8H40.9V1.4H28.2Z" clip-rule="evenodd"/></clipPath><text transform="translate(1912.72,768.50) scale(0.9610,1)" font-size="69" fill="#000" style="font-family:'Liberation Sans',Arial,sans-serif;font-weight:bold;font-kerning:none" clip-path="url(#c1_21)"><tspan dx="2.28">1</tspan><tspan dx="-2.28">0</tspan>0D</text>
<text transform="translate(2086.77,768.50) scale(0.9610,1)" font-size="69" fill="#000" style="font-family:'Liberation Sans',Arial,sans-serif;font-weight:bold;font-kerning:none">/</text>
<text transform="translate(2120.51,768.50) scale(0.9610,1)" font-size="69" fill="#000" style="font-family:'Liberation Sans',Arial,sans-serif;font-weight:bold;font-kerning:none">3phr</text>
<clipPath id="c1_22" clipPathUnits="userSpaceOnUse"><path d="M-50 -82.8H165.0V27.6H-50ZM4.3 -8.8H18.0V1.4H4.3ZM28.2 -8.8H40.9V1.4H28.2Z" clip-rule="evenodd"/></clipPath><text transform="translate(2277.29,768.50) scale(0.9610,1)" font-size="69" fill="#000" style="font-family:'Liberation Sans',Arial,sans-serif;font-weight:bold;font-kerning:none" clip-path="url(#c1_22)"><tspan dx="2.28">1</tspan><tspan dx="-2.28">M</tspan>I</text>
<clipPath id="c1_23" clipPathUnits="userSpaceOnUse"><path d="M-50 -82.8H214.9V27.6H-50ZM4.3 -8.8H18.0V1.4H4.3ZM28.2 -8.8H40.9V1.4H28.2Z" clip-rule="evenodd"/></clipPath><text transform="translate(1912.72,849.40) scale(0.9610,1)" font-size="69" fill="#000" style="font-family:'Liberation Sans',Arial,sans-serif;font-weight:bold;font-kerning:none" clip-path="url(#c1_23)"><tspan dx="2.28">1</tspan><tspan dx="-2.28">0</tspan>0D</text>
<text transform="translate(2086.77,849.40) scale(0.9610,1)" font-size="69" fill="#000" style="font-family:'Liberation Sans',Arial,sans-serif;font-weight:bold;font-kerning:none">/</text>
<text transform="translate(2120.51,849.40) scale(0.9610,1)" font-size="69" fill="#000" style="font-family:'Liberation Sans',Arial,sans-serif;font-weight:bold;font-kerning:none">4phr</text>
<clipPath id="c1_24" clipPathUnits="userSpaceOnUse"><path d="M-50 -82.8H165.0V27.6H-50ZM4.3 -8.8H18.0V1.4H4.3ZM28.2 -8.8H40.9V1.4H28.2Z" clip-rule="evenodd"/></clipPath><text transform="translate(2277.29,849.40) scale(0.9610,1)" font-size="69" fill="#000" style="font-family:'Liberation Sans',Arial,sans-serif;font-weight:bold;font-kerning:none" clip-path="url(#c1_24)"><tspan dx="2.28">1</tspan><tspan dx="-2.28">M</tspan>I</text>
<clipPath id="c1_25" clipPathUnits="userSpaceOnUse"><path d="M-50 -82.8H214.9V27.6H-50ZM4.3 -8.8H18.0V1.4H4.3ZM28.2 -8.8H40.9V1.4H28.2Z" clip-rule="evenodd"/></clipPath><text transform="translate(1912.72,929.70) scale(0.9610,1)" font-size="69" fill="#000" style="font-family:'Liberation Sans',Arial,sans-serif;font-weight:bold;font-kerning:none" clip-path="url(#c1_25)"><tspan dx="2.28">1</tspan><tspan dx="-2.28">0</tspan>0D</text>
<text transform="translate(2086.77,929.70) scale(0.9610,1)" font-size="69" fill="#000" style="font-family:'Liberation Sans',Arial,sans-serif;font-weight:bold;font-kerning:none">/</text>
<text transform="translate(2120.51,929.70) scale(0.9610,1)" font-size="69" fill="#000" style="font-family:'Liberation Sans',Arial,sans-serif;font-weight:bold;font-kerning:none">5phr</text>
<clipPath id="c1_26" clipPathUnits="userSpaceOnUse"><path d="M-50 -82.8H165.0V27.6H-50ZM4.3 -8.8H18.0V1.4H4.3ZM28.2 -8.8H40.9V1.4H28.2Z" clip-rule="evenodd"/></clipPath><text transform="translate(2277.29,929.70) scale(0.9610,1)" font-size="69" fill="#000" style="font-family:'Liberation Sans',Arial,sans-serif;font-weight:bold;font-kerning:none" clip-path="url(#c1_26)"><tspan dx="2.28">1</tspan><tspan dx="-2.28">M</tspan>I</text>
<line x1="1729.7" y1="100.0" x2="1897.2" y2="100.0" stroke="#000" stroke-width="10" stroke-linecap="round"/>
<line x1="1729.7" y1="180.9" x2="1897.2" y2="180.9" stroke="#000" stroke-width="10" stroke-linecap="round" stroke-dasharray="37 50"/>
<line x1="1729.7" y1="261.2" x2="1897.2" y2="261.2" stroke="#000" stroke-width="10" stroke-linecap="round" stroke-dasharray="5 47"/>
<line x1="1729.7" y1="341.8" x2="1897.2" y2="341.8" stroke="#000" stroke-width="10" stroke-linecap="round" stroke-dasharray="45 29.75 5.5 29.75"/>
<line x1="1729.7" y1="422.7" x2="1897.2" y2="422.7" stroke="#000" stroke-width="10" stroke-linecap="round" stroke-dasharray="32.6 29.2 6 29.2 6 29.2"/>
<line x1="1729.7" y1="583.1" x2="1897.2" y2="583.1" stroke="#ff0000" stroke-width="10" stroke-linecap="round"/>
<line x1="1729.7" y1="664.3" x2="1897.2" y2="664.3" stroke="#ff0000" stroke-width="10" stroke-linecap="round" stroke-dasharray="37 50"/>
<line x1="1729.7" y1="745.2" x2="1897.2" y2="745.2" stroke="#ff0000" stroke-width="10" stroke-linecap="round" stroke-dasharray="5 47"/>
<line x1="1729.7" y1="826.1" x2="1897.2" y2="826.1" stroke="#ff0000" stroke-width="10" stroke-linecap="round" stroke-dasharray="45 29.75 5.5 29.75"/>
<line x1="1729.7" y1="906.4" x2="1897.2" y2="906.4" stroke="#ff0000" stroke-width="10" stroke-linecap="round" stroke-dasharray="32.6 29.2 6 29.2 6 29.2"/></svg></body></html>
